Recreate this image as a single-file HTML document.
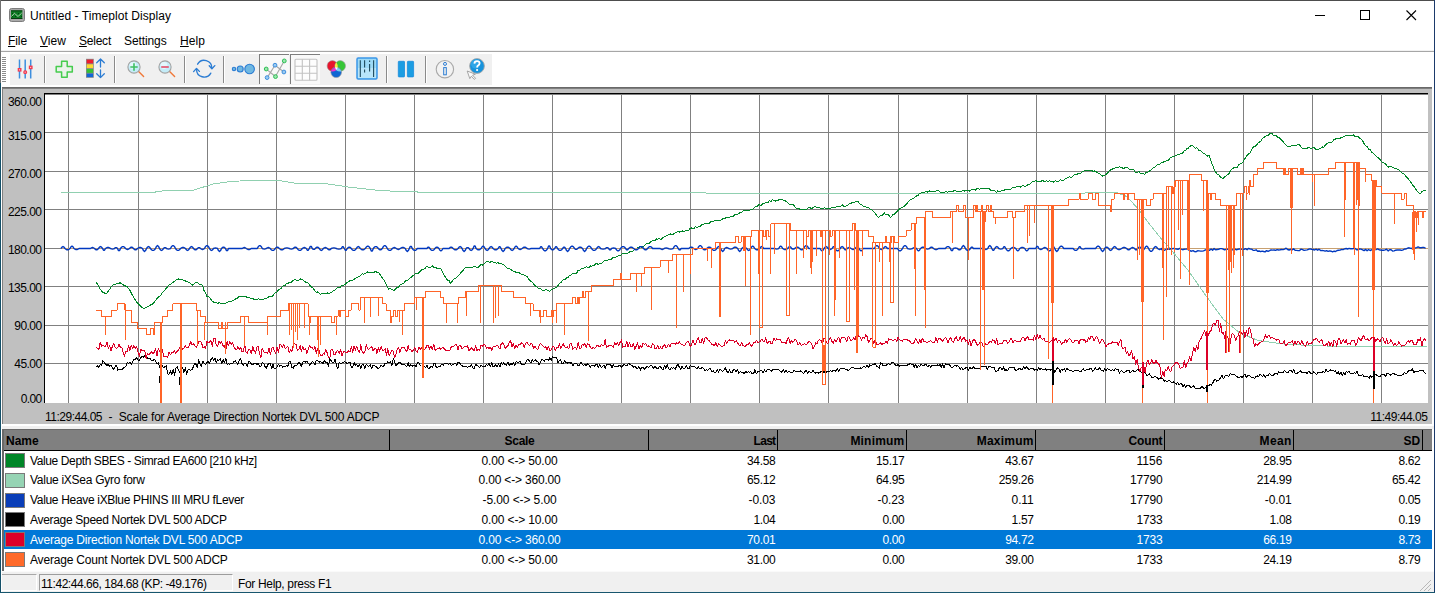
<!DOCTYPE html>
<html><head><meta charset="utf-8"><title>Untitled - Timeplot Display</title>
<style>
html,body{margin:0;padding:0;background:#fff;}
body{width:1435px;height:593px;overflow:hidden;position:relative;font-family:"Liberation Sans",sans-serif;font-size:12px;color:#000;}
.a{position:absolute;white-space:nowrap;line-height:14px;}
.t{position:absolute;white-space:nowrap;line-height:14px;font-size:12px;}
.r{text-align:right;}
.c{text-align:center;}
.b{font-weight:bold;}
.box{position:absolute;}
.sw{position:absolute;left:5px;width:18px;height:13px;border:1px solid #7a7a7a;}
.row{position:absolute;left:4px;width:1424px;height:20px;}
.sep{position:absolute;top:56px;width:1px;height:27px;background:#8a8a8a;border-right:1px solid #fff;}
u{text-decoration:underline;text-decoration-thickness:1px;text-underline-offset:0.5px;}
</style></head>
<body>
<div class="box" style="left:0;top:0;width:1435px;height:1px;background:#4d4d4d"></div>
<div class="box" style="left:0;top:0;width:1px;height:83px;background:#707070"></div>
<div class="box" style="left:0;top:83px;width:1px;height:510px;background:#145069"></div>
<div class="box" style="left:1434px;top:0;width:1px;height:593px;background:#1b3a6b"></div>
<div class="box" style="left:0;top:592px;width:1435px;height:1px;background:#17566e"></div>
<svg class="box" style="left:9px;top:8px" width="16" height="14" viewBox="0 0 16 14">
<rect x="0.5" y="0.5" width="15" height="13" rx="2" fill="#a9a9a9" stroke="#7d7d7d"/>
<rect x="2" y="2.4" width="11.3" height="8.6" fill="#0a7a22"/>
<g fill="#063c10"><rect x="2" y="2.4" width="11.3" height="1"/><rect x="2" y="10" width="11.3" height="1"/>
<rect x="3" y="5" width="1" height="1"/><rect x="6" y="5" width="1" height="1"/><rect x="9" y="5" width="1" height="1"/><rect x="12" y="5" width="1" height="1"/>
<rect x="3" y="8" width="1" height="1"/><rect x="6" y="8" width="1" height="1"/><rect x="9" y="8" width="1" height="1"/><rect x="12" y="8" width="1" height="1"/></g>
<polyline points="2.5,8.5 5.5,5.2 9,8.5 12.8,5" fill="none" stroke="#b9dcb9" stroke-width="0.9"/>
</svg>
<div class="t " style="left:30px;top:9px;letter-spacing:0.060px"><span id="title">Untitled - Timeplot Display</span></div>
<svg class="box" style="left:1300px;top:0" width="134" height="30" viewBox="0 0 134 30" shape-rendering="crispEdges">
<path d="M15 15.5H25" stroke="#000" stroke-width="1"/>
<rect x="60.5" y="10.5" width="9" height="9" fill="none" stroke="#000" stroke-width="1"/>
<path d="M106.5 10.5L116 20M116 10.5L106.5 20" stroke="#000" stroke-width="1.1" shape-rendering="auto"/>
</svg>
<div class="t " style="left:8px;top:34px;letter-spacing:-0.090px"><span id="m_File"><u>F</u>ile</span></div>
<div class="t " style="left:40px;top:34px;letter-spacing:-0.003px"><span id="m_View"><u>V</u>iew</span></div>
<div class="t " style="left:79px;top:34px;letter-spacing:-0.229px"><span id="m_Select"><u>S</u>elect</span></div>
<div class="t " style="left:124px;top:34px;letter-spacing:-0.095px"><span id="m_Settings">Settings</span></div>
<div class="t " style="left:180px;top:34px;letter-spacing:0.078px"><span id="m_Help"><u>H</u>elp</span></div>
<div class="box" style="left:1px;top:50px;width:1433px;height:1px;background:#f2f2f2"></div>
<div class="box" style="left:1px;top:51px;width:1433px;height:1px;background:#a6a6a6"></div>
<div class="box" style="left:10px;top:54px;width:482px;height:31px;background:#f0f0f0"></div>
<svg class="box" style="left:2px;top:57px" width="5" height="26" shape-rendering="crispEdges"><rect x="0" y="0" width="4" height="1" fill="#8c8c8c"/><rect x="0" y="2" width="4" height="1" fill="#8c8c8c"/><rect x="0" y="4" width="4" height="1" fill="#8c8c8c"/><rect x="0" y="6" width="4" height="1" fill="#8c8c8c"/><rect x="0" y="8" width="4" height="1" fill="#8c8c8c"/><rect x="0" y="10" width="4" height="1" fill="#8c8c8c"/><rect x="0" y="12" width="4" height="1" fill="#8c8c8c"/><rect x="0" y="14" width="4" height="1" fill="#8c8c8c"/><rect x="0" y="16" width="4" height="1" fill="#8c8c8c"/><rect x="0" y="18" width="4" height="1" fill="#8c8c8c"/><rect x="0" y="20" width="4" height="1" fill="#8c8c8c"/><rect x="0" y="22" width="4" height="1" fill="#8c8c8c"/><rect x="0" y="24" width="4" height="1" fill="#8c8c8c"/></svg>
<div class="sep" style="left:44px"></div>
<div class="sep" style="left:114px"></div>
<div class="sep" style="left:184px"></div>
<div class="sep" style="left:223px"></div>
<div class="sep" style="left:386px"></div>
<div class="sep" style="left:425px"></div>
<div class="box" style="left:259px;top:54px;width:30px;height:30px;background:#f9f9f9;border-left:1px solid #7e7e7e;border-top:1px solid #7e7e7e;box-sizing:border-box"></div>
<div class="box" style="left:290px;top:54px;width:30px;height:30px;background:#f9f9f9;border-left:1px solid #7e7e7e;border-top:1px solid #7e7e7e;box-sizing:border-box"></div>
<svg class="box" style="left:0;top:52px" width="500" height="36" viewBox="0 52 500 36" fill="none">
<!-- sliders -->
<g stroke="#3d8ede" stroke-width="1.5"><path d="M19.5 59.5V78.5M25.2 59.5V78.5M30.7 59.5V78.5"/></g>
<g fill="#f23a50"><rect x="17.7" y="68" width="3.8" height="3.6"/><rect x="23.3" y="70.2" width="3.8" height="3.8" rx="1.6"/><rect x="28.8" y="65.6" width="3.8" height="3.6"/></g>
<g fill="#ffd0d6"><rect x="19" y="69.3" width="1.1" height="1.1"/><rect x="24.6" y="71.6" width="1.1" height="1.1"/><rect x="30.1" y="66.9" width="1.1" height="1.1"/></g>
<!-- green plus -->
<path d="M61.6 61.2H67.2V66.4H72.3V72H67.2V77.2H61.6V72H56.2V66.4H61.6Z" stroke="#46cc4e" stroke-width="1.5" stroke-linejoin="round" fill="#eaf3ea"/>
<!-- colour bar -->
<rect x="86" y="58.8" width="7.8" height="19" fill="#8b8b8b"/>
<rect x="86.7" y="59.6" width="6.4" height="3.8" fill="#ee1c2e"/>
<rect x="86.7" y="64.3" width="6.4" height="3.8" fill="#ffd92f"/>
<rect x="86.7" y="69" width="6.4" height="3.8" fill="#34c234"/>
<rect x="86.7" y="73.6" width="6.4" height="3.5" fill="#1166d6"/>
<g stroke="#2b7cd3" stroke-width="1.3" stroke-linecap="round" stroke-linejoin="round"><path d="M100.5 59V67M96.7 62.8L100.5 59L104.3 62.8M100.5 70V77.6M96.7 73.8L100.5 77.6L104.3 73.8"/></g>
<!-- zoom in -->
<path d="M138.6 71.6L143.6 76.6" stroke="#f07838" stroke-width="1.4" stroke-linecap="round"/>
<circle cx="134" cy="67" r="6.1" fill="#c4ecf8" stroke="#a2a2a2" stroke-width="1.1"/>
<circle cx="133" cy="65.5" r="3.4" fill="#e4f7fc"/>
<path d="M130.3 67H137.7M134 63.3V70.7" stroke="#3fbf63" stroke-width="1.6"/>
<!-- zoom out -->
<path d="M169.6 71.6L174.6 76.6" stroke="#f07838" stroke-width="1.4" stroke-linecap="round"/>
<circle cx="165" cy="67" r="6.1" fill="#c4ecf8" stroke="#a2a2a2" stroke-width="1.1"/>
<circle cx="164" cy="65.5" r="3.4" fill="#e4f7fc"/>
<path d="M161.2 67H168.8" stroke="#e2607a" stroke-width="1.8"/>
<!-- refresh -->
<g stroke="#2b7cd3" stroke-width="1.35" stroke-linecap="round" stroke-linejoin="round">
<path d="M197.6 64.2A7.6 7.6 0 0 1 211.8 68.2"/><path d="M209.2 65.8L211.9 68.8L214.8 65.6"/>
<path d="M210.8 73.2A7.6 7.6 0 0 1 196.6 69.2"/><path d="M193.6 71.6L196.5 68.4L199.4 71.4"/></g>
<!-- bubbles -->
<g fill="#6fb8e2" stroke="#2b7cd3" stroke-width="1.1"><circle cx="234" cy="69" r="1.7"/><circle cx="240.2" cy="69" r="3"/><circle cx="249.6" cy="69" r="4.8"/></g>
<!-- scatter -->
<g stroke="#a6a6a6" stroke-width="1.1"><path d="M266.3 69.1L275.4 76.5M275 65.3L283.9 72M284.4 60.8L275.4 76.5M267.2 77.6L275 65.3"/></g>
<g stroke-width="1"><circle cx="284.3" cy="60.9" r="1.9" fill="#9be6ae" stroke="#2fbf55"/><circle cx="266.2" cy="69" r="1.9" fill="#9be6ae" stroke="#2fbf55"/><circle cx="275.5" cy="76.6" r="1.9" fill="#9be6ae" stroke="#2fbf55"/>
<circle cx="275" cy="65.2" r="1.9" fill="#9ccbf0" stroke="#3d8ede"/><circle cx="283.9" cy="72" r="1.9" fill="#9ccbf0" stroke="#3d8ede"/><circle cx="267.1" cy="77.6" r="1.9" fill="#9ccbf0" stroke="#3d8ede"/></g>
<!-- grid -->
<rect x="295" y="59.2" width="22" height="21" rx="1" fill="#fdfdfd" stroke="#c2c2c2" stroke-width="1.1"/>
<path d="M302.3 59.2V80.2M309.6 59.2V80.2M295 66.2H317M295 73.2H317" stroke="#c2c2c2" stroke-width="1.1"/>
<!-- venn -->
<circle cx="332.4" cy="65.9" r="5.3" fill="#e8142c" stroke="#9a9a9a" stroke-width="0.6"/>
<circle cx="340.2" cy="65.9" r="5.3" fill="#36c636" stroke="#9a9a9a" stroke-width="0.6"/>
<circle cx="336.2" cy="72.3" r="5.3" fill="#0f66d2" stroke="#9a9a9a" stroke-width="0.6"/>
<path d="M336.3 62.3Q338.4 65 337.6 68.2H335Q334.2 65 336.3 62.3Z" fill="#ffe840"/>
<path d="M331.4 70.4Q333 67.6 335.6 67.8L336.2 70.2Q334.3 71.6 331.4 71.4Z" fill="#f32fd0"/>
<path d="M341 70.4Q339.4 67.6 336.8 67.8L336.2 70.2Q338.1 71.6 341 71.4Z" fill="#7fd0f0"/>
<path d="M335 67.6H337.6L336.3 70.2Z" fill="#fff"/>
<!-- blue box -->
<rect x="357" y="58" width="20" height="21" rx="1.2" fill="#9ddaf6" stroke="#3a96e8" stroke-width="1.5"/>
<rect x="358" y="68" width="18" height="10" fill="#b9e6fa"/>
<g stroke="#1e4a5c" stroke-width="1.1"><path d="M360.3 60.2V77M373.6 60.2V77M364.6 60.2V67.6M364.6 69.6V72.6M369.6 60.4V62M369.6 64V71.4"/></g>
<!-- pause -->
<rect x="398.3" y="61.3" width="6.2" height="15.6" rx="0.6" fill="#1c9de2" stroke="#1b8cdc" stroke-width="0.8"/>
<rect x="407.4" y="61.3" width="6.2" height="15.6" rx="0.6" fill="#1c9de2" stroke="#1b8cdc" stroke-width="0.8"/>
<!-- info -->
<circle cx="444.9" cy="69.2" r="8.7" fill="#f2f2f2" stroke="#a8a8a8" stroke-width="1.1"/>
<circle cx="445" cy="63.9" r="1.5" stroke="#2b7cd3" stroke-width="1"/>
<rect x="443.7" y="67.6" width="2.6" height="7.2" stroke="#2b7cd3" stroke-width="1"/>
<!-- help -->
<circle cx="477" cy="66" r="7.4" fill="#1793dc" stroke="#a9a9a9" stroke-width="0.9"/>
<circle cx="475.6" cy="64" r="4.6" fill="#2ea6e8"/>
<path d="M474.4 63.6Q474.5 61.2 477 61.2Q479.6 61.2 479.6 63.3Q479.6 64.7 478.1 65.5Q477.1 66.1 477.1 67.4" stroke="#fff" stroke-width="1.8" fill="none"/>
<circle cx="477.1" cy="70" r="1.1" fill="#fff"/>
<path d="M467.2 71L475.4 74.2L472.6 75.2L475.6 78.4L474.2 79.4L471.4 76.2L469.8 78.6Z" fill="#fafafa" stroke="#9c9c9c" stroke-width="0.9" stroke-linejoin="round"/>
</svg>
<div class="box" style="left:2px;top:87px;width:1430px;height:1px;background:#696969"></div>
<div class="box" style="left:2px;top:88px;width:1430px;height:1px;background:#7f7f7f"></div>
<div class="box" style="left:2px;top:89px;width:1430px;height:335px;background:#c0c0c0"></div>
<div class="box" style="left:2px;top:88px;width:1px;height:336px;background:#808080"></div>
<div class="box" style="left:1432px;top:88px;width:1px;height:336px;background:#fff"></div>
<div class="box" style="left:2px;top:426px;width:1432px;height:3px;background:#f0f0f0"></div>
<div class="t " style="right:1393.5px;top:95px;letter-spacing:-0.517px"><span id="t7">360.00</span></div>
<div class="t " style="right:1393.5px;top:129px;letter-spacing:-0.517px"><span id="t8">315.00</span></div>
<div class="t " style="right:1393.5px;top:167px;letter-spacing:-0.517px"><span id="t9">270.00</span></div>
<div class="t " style="right:1393.5px;top:205px;letter-spacing:-0.517px"><span id="t10">225.00</span></div>
<div class="t " style="right:1393.5px;top:243px;letter-spacing:-0.517px"><span id="t11">180.00</span></div>
<div class="t " style="right:1393.5px;top:281px;letter-spacing:-0.517px"><span id="t12">135.00</span></div>
<div class="t " style="right:1393.5px;top:319px;letter-spacing:-0.566px"><span id="t13">90.00</span></div>
<div class="t " style="right:1393.5px;top:357px;letter-spacing:-0.566px"><span id="t14">45.00</span></div>
<div class="t " style="right:1393.5px;top:392px;letter-spacing:-0.640px"><span id="t15">0.00</span></div>
<div class="t " style="left:45px;top:410px;letter-spacing:-0.501px"><span id="tl">11:29:44.05</span></div>
<div class="t " style="left:108.6px;top:410px"><span id="tl2">-</span></div>
<div class="t " style="left:118.8px;top:410px;letter-spacing:-0.193px"><span id="tl3">Scale for Average Direction Nortek DVL 500 ADCP</span></div>
<div class="t " style="right:7.7px;top:410px;letter-spacing:-0.501px"><span id="tr">11:49:44.05</span></div>
<div class="box" style="left:2px;top:429px;width:1430px;height:1px;background:#696969"></div>
<div class="box" style="left:2px;top:430px;width:1430px;height:20px;background:#808080"></div>
<div class="box" style="left:2px;top:450px;width:1430px;height:1px;background:#000"></div>
<div class="box" style="left:2px;top:429px;width:2px;height:142px;background:#696969"></div>
<div class="box" style="left:389px;top:430px;width:1px;height:20px;background:#000"></div>
<div class="box" style="left:648px;top:430px;width:1px;height:20px;background:#000"></div>
<div class="box" style="left:777px;top:430px;width:1px;height:20px;background:#000"></div>
<div class="box" style="left:906px;top:430px;width:1px;height:20px;background:#000"></div>
<div class="box" style="left:1035px;top:430px;width:1px;height:20px;background:#000"></div>
<div class="box" style="left:1164px;top:430px;width:1px;height:20px;background:#000"></div>
<div class="box" style="left:1293px;top:430px;width:1px;height:20px;background:#000"></div>
<div class="box" style="left:1422px;top:430px;width:1px;height:20px;background:#000"></div>
<div class="t b" style="left:6px;top:434px;letter-spacing:-0.022px"><span id="t20">Name</span></div>
<div class="t b" style="left:369.5px;width:300px;text-align:center;top:434px;letter-spacing:-0.312px"><span id="t21">Scale</span></div>
<div class="t b" style="right:659.6px;top:434px;letter-spacing:-0.722px"><span id="t22">Last</span></div>
<div class="t b" style="right:530.6px;top:434px;letter-spacing:0.190px"><span id="t23">Minimum</span></div>
<div class="t b" style="right:401.4px;top:434px;letter-spacing:0.220px"><span id="t24">Maximum</span></div>
<div class="t b" style="right:272.6px;top:434px;letter-spacing:-0.171px"><span id="t25">Count</span></div>
<div class="t b" style="right:143.4px;top:434px;letter-spacing:0.328px"><span id="t26">Mean</span></div>
<div class="t b" style="right:14.6px;top:434px;letter-spacing:0.164px"><span id="t27">SD</span></div>
<div class="sw" style="top:453px;background:#008628"></div>
<div class="t " style="left:30px;top:454px;color:#000;letter-spacing:-0.385px"><span id="t28">Value Depth SBES - Simrad EA600 [210 kHz]</span></div>
<div class="t " style="left:369.6px;width:300px;text-align:center;top:454px;color:#000;letter-spacing:-0.148px"><span id="t29">0.00 &lt;-&gt; 50.00</span></div>
<div class="t " style="right:659.6px;top:454px;color:#000;letter-spacing:-0.310px"><span id="t30">34.58</span></div>
<div class="t " style="right:530.6px;top:454px;color:#000;letter-spacing:-0.310px"><span id="t31">15.17</span></div>
<div class="t " style="right:401.4px;top:454px;color:#000;letter-spacing:-0.310px"><span id="t32">43.67</span></div>
<div class="t " style="right:272.6px;top:454px;color:#000;letter-spacing:0.017px"><span id="t33">1156</span></div>
<div class="t " style="right:143.4px;top:454px;color:#000;letter-spacing:-0.310px"><span id="t34">28.95</span></div>
<div class="t " style="right:14.6px;top:454px;color:#000;letter-spacing:-0.337px"><span id="t35">8.62</span></div>
<div class="sw" style="top:473px;background:#96d4b4"></div>
<div class="t " style="left:30px;top:473px;color:#000;letter-spacing:-0.276px"><span id="t36">Value iXSea Gyro forw</span></div>
<div class="t " style="left:369.6px;width:300px;text-align:center;top:473px;color:#000;letter-spacing:-0.183px"><span id="t37">0.00 &lt;-&gt; 360.00</span></div>
<div class="t " style="right:659.6px;top:473px;color:#000;letter-spacing:-0.310px"><span id="t38">65.12</span></div>
<div class="t " style="right:530.6px;top:473px;color:#000;letter-spacing:-0.310px"><span id="t39">64.95</span></div>
<div class="t " style="right:401.4px;top:473px;color:#000;letter-spacing:-0.292px"><span id="t40">259.26</span></div>
<div class="t " style="right:272.6px;top:473px;color:#000;letter-spacing:-0.205px"><span id="t41">17790</span></div>
<div class="t " style="right:143.4px;top:473px;color:#000;letter-spacing:-0.292px"><span id="t42">214.99</span></div>
<div class="t " style="right:14.6px;top:473px;color:#000;letter-spacing:-0.310px"><span id="t43">65.42</span></div>
<div class="sw" style="top:493px;background:#0a3eb8"></div>
<div class="t " style="left:30px;top:493px;color:#000;letter-spacing:-0.322px"><span id="t44">Value Heave iXBlue PHINS III MRU fLever</span></div>
<div class="t " style="left:369.6px;width:300px;text-align:center;top:493px;color:#000;letter-spacing:-0.099px"><span id="t45">-5.00 &lt;-&gt; 5.00</span></div>
<div class="t " style="right:659.6px;top:493px;color:#000;letter-spacing:-0.110px"><span id="t46">-0.03</span></div>
<div class="t " style="right:530.6px;top:493px;color:#000;letter-spacing:-0.110px"><span id="t47">-0.23</span></div>
<div class="t " style="right:401.4px;top:493px;color:#000;letter-spacing:-0.115px"><span id="t48">0.11</span></div>
<div class="t " style="right:272.6px;top:493px;color:#000;letter-spacing:-0.205px"><span id="t49">17790</span></div>
<div class="t " style="right:143.4px;top:493px;color:#000;letter-spacing:-0.110px"><span id="t50">-0.01</span></div>
<div class="t " style="right:14.6px;top:493px;color:#000;letter-spacing:-0.337px"><span id="t51">0.05</span></div>
<div class="sw" style="top:512px;background:#000000"></div>
<div class="t " style="left:30px;top:513px;color:#000;letter-spacing:-0.309px"><span id="t52">Average Speed Nortek DVL 500 ADCP</span></div>
<div class="t " style="left:369.6px;width:300px;text-align:center;top:513px;color:#000;letter-spacing:-0.148px"><span id="t53">0.00 &lt;-&gt; 10.00</span></div>
<div class="t " style="right:659.6px;top:513px;color:#000;letter-spacing:-0.337px"><span id="t54">1.04</span></div>
<div class="t " style="right:530.6px;top:513px;color:#000;letter-spacing:-0.337px"><span id="t55">0.00</span></div>
<div class="t " style="right:401.4px;top:513px;color:#000;letter-spacing:-0.337px"><span id="t56">1.57</span></div>
<div class="t " style="right:272.6px;top:513px;color:#000;letter-spacing:-0.206px"><span id="t57">1733</span></div>
<div class="t " style="right:143.4px;top:513px;color:#000;letter-spacing:-0.337px"><span id="t58">1.08</span></div>
<div class="t " style="right:14.6px;top:513px;color:#000;letter-spacing:-0.337px"><span id="t59">0.19</span></div>
<div class="box" style="left:4px;top:530.0px;width:1428px;height:19px;background:#0078d7"></div>
<div class="sw" style="top:532px;background:#dc0028"></div>
<div class="t " style="left:30px;top:533px;color:#fff;letter-spacing:-0.191px"><span id="t60">Average Direction Nortek DVL 500 ADCP</span></div>
<div class="t " style="left:369.6px;width:300px;text-align:center;top:533px;color:#fff;letter-spacing:-0.183px"><span id="t61">0.00 &lt;-&gt; 360.00</span></div>
<div class="t " style="right:659.6px;top:533px;color:#fff;letter-spacing:-0.310px"><span id="t62">70.01</span></div>
<div class="t " style="right:530.6px;top:533px;color:#fff;letter-spacing:-0.337px"><span id="t63">0.00</span></div>
<div class="t " style="right:401.4px;top:533px;color:#fff;letter-spacing:-0.310px"><span id="t64">94.72</span></div>
<div class="t " style="right:272.6px;top:533px;color:#fff;letter-spacing:-0.206px"><span id="t65">1733</span></div>
<div class="t " style="right:143.4px;top:533px;color:#fff;letter-spacing:-0.310px"><span id="t66">66.19</span></div>
<div class="t " style="right:14.6px;top:533px;color:#fff;letter-spacing:-0.337px"><span id="t67">8.73</span></div>
<div class="sw" style="top:552px;background:#ff6a2a"></div>
<div class="t " style="left:30px;top:553px;color:#000;letter-spacing:-0.195px"><span id="t68">Average Count Nortek DVL 500 ADCP</span></div>
<div class="t " style="left:369.6px;width:300px;text-align:center;top:553px;color:#000;letter-spacing:-0.148px"><span id="t69">0.00 &lt;-&gt; 50.00</span></div>
<div class="t " style="right:659.6px;top:553px;color:#000;letter-spacing:-0.310px"><span id="t70">31.00</span></div>
<div class="t " style="right:530.6px;top:553px;color:#000;letter-spacing:-0.337px"><span id="t71">0.00</span></div>
<div class="t " style="right:401.4px;top:553px;color:#000;letter-spacing:-0.310px"><span id="t72">39.00</span></div>
<div class="t " style="right:272.6px;top:553px;color:#000;letter-spacing:-0.206px"><span id="t73">1733</span></div>
<div class="t " style="right:143.4px;top:553px;color:#000;letter-spacing:-0.310px"><span id="t74">24.19</span></div>
<div class="t " style="right:14.6px;top:553px;color:#000;letter-spacing:-0.337px"><span id="t75">8.79</span></div>
<div class="box" style="left:2px;top:571px;width:1432px;height:21px;background:#f0f0f0"></div>
<div class="box" style="left:2px;top:571px;width:1432px;height:1px;background:#fafafa"></div>
<div class="box" style="left:2px;top:574px;width:35px;height:17px;border-top:1px solid #a8a8a8;border-right:1px solid #fff;border-bottom:1px solid #fff;box-sizing:border-box"></div>
<div class="box" style="left:39px;top:574px;width:194px;height:17px;border-left:1px solid #9d9d9d;border-top:1px solid #9d9d9d;border-right:1px solid #fff;border-bottom:1px solid #fff;box-sizing:border-box"></div>
<div class="t " style="left:41px;top:577px;letter-spacing:-0.457px"><span id="st1">11:42:44.66, 184.68 (KP: -49.176)</span></div>
<div class="t " style="left:238px;top:577px;letter-spacing:-0.338px"><span id="st2">For Help, press F1</span></div>
<svg class="box" style="left:1418px;top:578px" width="14" height="14" shape-rendering="crispEdges">
<path d="M13 2L2 13M13 6L6 13M13 10L10 13" stroke="#b8b8b8" stroke-width="1" shape-rendering="auto"/></svg>
<svg width="1435" height="593" viewBox="0 0 1435 593" style="position:absolute;left:0;top:0" shape-rendering="crispEdges" fill="none">
<rect x="44" y="93" width="1384" height="310" fill="#fff"/>
<path d="M68.5 94V403M138.5 94V403M207.5 94V403M276.5 94V403M345.5 94V403M414.5 94V403M483.5 94V403M552.5 94V403M621.5 94V403M690.5 94V403M759.5 94V403M828.5 94V403M898.5 94V403M967.5 94V403M1036.5 94V403M1105.5 94V403M1174.5 94V403M1243.5 94V403M1312.5 94V403M1381.5 94V403M45 94.5H1428M45 132.5H1428M45 171.5H1428M45 209.5H1428M45 248.5H1428M45 286.5H1428M45 325.5H1428M45 363.5H1428" stroke="#808080" stroke-width="1"/>
<path d="M44.5 403V93.5H1428" stroke="#000" stroke-width="1"/>
<g stroke-linejoin="round" stroke-width="1">
<polyline points="61.0,192.4 153.0,192.4 164.0,190.7 193.0,190.2 214.0,183.8 231.0,181.5 250.0,180.4 278.0,180.4 295.0,183.2 323.0,183.2 351.0,187.4 380.0,190.5 400.0,191.5 417.0,191.5 418.0,192.5 760.0,193.1 1080.0,193.3 1099.0,192.2 1116.0,192.2 1127.0,196.6 1138.0,208.7 1149.0,223.5 1161.0,238.4 1170.0,248.5 1189.0,271.5 1206.0,295.9 1223.0,318.9 1240.0,333.2 1258.0,340.4 1281.0,343.8 1309.0,345.5 1340.0,346.4 1427.0,346.4" stroke="#90d0b0"/>
<polyline points="96.2,282.5 97.6,284.4 99.0,287.1 100.4,289.4 101.8,291.2 103.2,292.7 104.6,293.0 106.0,294.0 107.4,292.8 108.8,290.1 110.2,288.5 111.6,286.4 113.0,284.7 114.4,284.8 115.8,284.0 117.2,283.5 118.6,283.5 120.0,282.6 121.4,283.9 122.8,284.3 124.2,285.5 125.6,286.1 127.0,286.7 128.4,288.2 129.8,290.1 131.2,292.8 132.6,295.6 134.0,297.8 135.4,300.1 136.8,302.4 138.2,303.8 139.6,305.3 141.0,306.7 142.4,307.6 143.8,308.6 145.2,307.7 146.6,307.2 148.0,306.4 149.4,305.9 150.8,304.9 152.2,304.4 153.6,303.1 155.0,301.3 156.4,299.2 157.8,297.8 159.2,296.4 160.6,295.5 162.0,293.2 163.4,291.2 164.8,290.5 166.2,288.2 167.6,286.7 169.0,285.1 170.4,284.4 171.8,283.1 173.2,282.1 174.6,281.7 176.0,280.2 177.4,279.4 178.8,278.9 180.2,279.3 181.6,279.5 183.0,280.0 184.4,280.5 185.8,281.1 187.2,281.8 188.6,282.1 190.0,283.1 191.4,284.4 192.8,285.2 194.2,283.9 195.6,282.7 197.0,282.5 198.4,283.5 199.8,284.3 201.2,284.2 202.6,285.8 204.0,290.6 205.4,292.5 206.8,296.8 208.2,296.7 209.6,297.6 211.0,299.5 212.4,301.2 213.8,302.3 215.2,302.6 216.6,302.9 218.0,303.3 219.4,302.4 220.8,303.5 222.2,303.5 223.6,303.7 225.0,304.0 226.4,302.8 227.8,302.1 229.2,301.0 230.6,301.9 232.0,301.2 233.4,300.3 234.8,299.5 236.2,298.3 237.6,298.2 239.0,296.1 240.4,296.9 241.8,296.5 243.2,296.2 244.6,296.3 246.0,296.7 247.4,297.7 248.8,297.6 250.2,298.1 251.6,298.9 253.0,298.5 254.4,299.6 255.8,299.3 257.2,299.3 258.6,298.9 260.0,299.3 261.4,299.2 262.8,299.7 264.2,298.7 265.6,298.7 267.0,298.1 268.4,297.1 269.8,296.0 271.2,296.2 272.6,296.1 274.0,293.8 275.4,292.4 276.8,292.4 278.2,290.3 279.6,289.0 281.0,288.6 282.4,286.3 283.8,285.6 285.2,285.3 286.6,283.5 288.0,283.3 289.4,282.2 290.8,282.7 292.2,281.4 293.6,280.2 295.0,279.5 296.4,280.5 297.8,280.6 299.2,280.0 300.6,278.8 302.0,279.9 303.4,280.0 304.8,281.9 306.2,282.1 307.6,282.6 309.0,284.3 310.4,285.7 311.8,287.5 313.2,288.3 314.6,290.6 316.0,292.1 317.4,292.0 318.8,293.1 320.2,294.1 321.6,293.8 323.0,293.0 324.4,293.9 325.8,293.8 327.2,292.7 328.6,293.9 330.0,292.8 331.4,292.7 332.8,291.1 334.2,290.5 335.6,289.4 337.0,288.1 338.4,287.2 339.8,287.6 341.2,286.0 342.6,285.3 344.0,285.2 345.4,284.1 346.8,282.8 348.2,282.1 349.6,280.7 351.0,281.1 352.4,280.3 353.8,279.8 355.2,278.3 356.6,277.6 358.0,276.9 359.4,276.5 360.8,275.3 362.2,273.6 363.6,274.2 365.0,273.7 366.4,272.7 367.8,271.9 369.2,272.6 370.6,272.3 372.0,272.8 373.4,272.9 374.8,271.8 376.2,271.7 377.6,272.8 379.0,272.8 380.4,275.1 381.8,277.2 383.2,279.0 384.6,280.8 386.0,283.7 387.4,286.5 388.8,289.1 390.2,288.6 391.6,289.4 393.0,290.2 394.4,290.1 395.8,288.7 397.2,287.3 398.6,287.0 400.0,285.0 401.4,284.9 402.8,283.5 404.2,282.8 405.6,280.8 407.0,281.1 408.4,279.8 409.8,278.3 411.2,277.6 412.6,276.0 414.0,275.2 415.4,273.5 416.8,273.7 418.2,273.6 419.6,272.0 421.0,270.3 422.4,269.5 423.8,269.0 425.2,268.4 426.6,266.4 428.0,267.2 429.4,267.1 430.8,267.0 432.2,265.8 433.6,267.2 435.0,267.0 436.4,268.0 437.8,268.6 439.2,268.0 440.6,268.7 442.0,270.6 443.4,274.1 444.8,276.4 446.2,278.0 447.6,280.6 449.0,280.6 450.4,283.1 451.8,281.9 453.2,279.7 454.6,278.4 456.0,278.0 457.4,276.3 458.8,275.0 460.2,273.8 461.6,271.5 463.0,270.6 464.4,268.4 465.8,267.6 467.2,267.6 468.6,267.2 470.0,267.7 471.4,267.0 472.8,267.2 474.2,266.4 475.6,267.0 477.0,267.4 478.4,267.1 479.8,265.5 481.2,264.2 482.6,265.1 484.0,264.0 485.4,262.4 486.8,261.8 488.2,261.8 489.6,262.5 491.0,261.7 492.4,261.6 493.8,262.2 495.2,262.9 496.6,263.2 498.0,262.4 499.4,264.0 500.8,263.3 502.2,264.2 503.6,264.8 505.0,265.8 506.4,267.3 507.8,268.6 509.2,268.6 510.6,269.3 512.0,270.6 513.4,271.3 514.8,271.4 516.2,272.6 517.6,272.3 519.0,272.2 520.4,273.8 521.8,274.4 523.2,274.2 524.6,276.0 526.0,275.8 527.4,276.6 528.8,279.2 530.2,280.7 531.6,281.7 533.0,282.8 534.4,285.0 535.8,286.3 537.2,287.1 538.6,288.6 540.0,288.5 541.4,289.2 542.8,290.6 544.2,290.5 545.6,289.7 547.0,290.1 548.4,290.4 549.8,291.3 551.2,289.9 552.6,289.2 554.0,288.0 555.4,288.0 556.8,287.6 558.2,285.3 559.6,283.5 561.0,282.5 562.4,280.8 563.8,279.4 565.2,279.5 566.6,277.7 568.0,278.0 569.4,275.6 570.8,275.2 572.2,273.5 573.6,273.9 575.0,273.8 576.4,273.9 577.8,270.9 579.2,270.5 580.6,269.2 582.0,268.5 583.4,268.1 584.8,267.9 586.2,266.9 587.6,267.3 589.0,267.6 590.4,266.0 591.8,266.3 593.2,265.5 594.6,265.0 596.0,263.4 597.4,264.0 598.8,264.3 600.2,263.5 601.6,263.2 603.0,261.9 604.4,260.7 605.8,261.0 607.2,260.3 608.6,259.4 610.0,259.5 611.4,259.4 612.8,257.7 614.2,257.1 615.6,257.3 617.0,256.6 618.4,255.8 619.8,255.1 621.2,255.0 622.6,253.5 624.0,253.3 625.4,253.9 626.8,253.2 628.2,253.1 629.6,251.8 631.0,251.0 632.4,251.6 633.8,250.2 635.2,249.5 636.6,248.7 638.0,247.6 639.4,246.7 640.8,247.0 642.2,247.0 643.6,246.8 645.0,244.9 646.4,243.5 647.8,243.5 649.2,243.2 650.6,242.0 652.0,241.0 653.4,240.4 654.8,240.7 656.2,238.8 657.6,239.6 659.0,238.3 660.4,239.4 661.8,238.9 663.2,237.3 664.6,236.6 666.0,235.9 667.4,235.1 668.8,234.9 670.2,233.9 671.6,234.9 673.0,234.8 674.4,233.2 675.8,232.8 677.2,231.9 678.6,231.7 680.0,232.2 681.4,231.4 682.8,230.9 684.2,231.3 685.6,230.6 687.0,230.6 688.4,230.6 689.8,228.8 691.2,227.8 692.6,229.0 694.0,228.6 695.4,226.6 696.8,227.3 698.2,226.8 699.6,226.5 701.0,225.6 702.4,224.3 703.8,224.0 705.2,223.6 706.6,223.2 708.0,223.8 709.4,223.3 710.8,221.8 712.2,221.2 713.6,221.3 715.0,220.7 716.4,220.2 717.8,220.1 719.2,220.0 720.6,220.5 722.0,219.3 723.4,218.1 724.8,219.0 726.2,217.4 727.6,217.5 729.0,217.1 730.4,216.9 731.8,216.2 733.2,216.2 734.6,214.9 736.0,214.4 737.4,214.3 738.8,213.7 740.2,212.5 741.6,212.5 743.0,211.1 744.4,210.5 745.8,210.7 747.2,210.3 748.6,210.3 750.0,210.1 751.4,209.2 752.8,209.0 754.2,207.8 755.6,206.8 757.0,207.1 758.4,204.9 759.8,204.9 761.2,205.4 762.6,203.9 764.0,203.4 765.4,203.0 766.8,202.0 768.2,202.3 769.6,200.6 771.0,201.4 772.4,199.6 773.8,200.4 775.2,201.2 776.6,200.2 778.0,200.3 779.4,199.5 780.8,199.0 782.2,199.0 783.6,200.5 785.0,200.5 786.4,201.7 787.8,202.5 789.2,204.0 790.6,204.1 792.0,204.4 793.4,204.9 794.8,206.6 796.2,207.9 797.6,209.0 799.0,208.4 800.4,209.8 801.8,209.2 803.2,208.9 804.6,210.0 806.0,209.9 807.4,208.4 808.8,207.5 810.2,207.8 811.6,208.8 813.0,207.6 814.4,206.8 815.8,207.0 817.2,207.3 818.6,207.2 820.0,208.0 821.4,208.5 822.8,208.6 824.2,207.9 825.6,208.2 827.0,208.8 828.4,208.3 829.8,208.7 831.2,207.9 832.6,207.1 834.0,207.4 835.4,207.5 836.8,206.3 838.2,206.1 839.6,206.2 841.0,206.0 842.4,205.0 843.8,206.3 845.2,206.1 846.6,205.8 848.0,205.2 849.4,203.7 850.8,203.8 852.2,202.4 853.6,202.5 855.0,202.1 856.4,201.7 857.8,201.3 859.2,203.4 860.6,204.2 862.0,204.7 863.4,206.3 864.8,206.2 866.2,207.1 867.6,207.4 869.0,208.0 870.4,209.2 871.8,209.7 873.2,211.2 874.6,212.5 876.0,214.6 877.4,216.8 878.8,217.1 880.2,215.7 881.6,215.7 883.0,214.7 884.4,213.0 885.8,214.7 887.2,214.9 888.6,215.0 890.0,217.1 891.4,217.0 892.8,214.6 894.2,214.5 895.6,213.0 897.0,211.6 898.4,210.0 899.8,208.9 901.2,207.9 902.6,207.4 904.0,206.3 905.4,205.3 906.8,203.6 908.2,201.9 909.6,200.4 911.0,199.4 912.4,198.9 913.8,198.6 915.2,196.7 916.6,196.0 918.0,195.7 919.4,193.4 920.8,193.2 922.2,192.5 923.6,192.1 925.0,192.0 926.4,191.1 927.8,192.2 929.2,190.8 930.6,191.9 932.0,191.4 933.4,191.5 934.8,191.9 936.2,191.0 937.6,190.2 939.0,191.2 940.4,192.3 941.8,192.3 943.2,192.4 944.6,192.2 946.0,191.4 947.4,192.4 948.8,191.6 950.2,191.1 951.6,191.8 953.0,191.9 954.4,190.1 955.8,190.9 957.2,191.4 958.6,191.8 960.0,191.6 961.4,191.2 962.8,190.4 964.2,191.3 965.6,190.1 967.0,190.7 968.4,190.4 969.8,191.2 971.2,190.1 972.6,189.3 974.0,189.6 975.4,190.4 976.8,188.7 978.2,188.2 979.6,189.5 981.0,188.2 982.4,188.2 983.8,188.1 985.2,188.0 986.6,188.1 988.0,188.3 989.4,188.8 990.8,190.2 992.2,190.7 993.6,190.8 995.0,191.1 996.4,192.5 997.8,190.7 999.2,191.7 1000.6,191.3 1002.0,190.5 1003.4,190.7 1004.8,189.9 1006.2,189.6 1007.6,189.3 1009.0,189.7 1010.4,190.0 1011.8,188.4 1013.2,187.4 1014.6,187.9 1016.0,187.0 1017.4,186.2 1018.8,186.5 1020.2,187.2 1021.6,186.2 1023.0,185.3 1024.4,186.4 1025.8,186.4 1027.2,185.3 1028.6,184.1 1030.0,184.0 1031.4,182.2 1032.8,181.8 1034.2,181.2 1035.6,180.6 1037.0,181.2 1038.4,181.8 1039.8,181.8 1041.2,181.4 1042.6,180.2 1044.0,181.4 1045.4,181.2 1046.8,180.6 1048.2,181.7 1049.6,180.7 1051.0,181.8 1052.4,181.1 1053.8,182.2 1055.2,180.8 1056.6,181.2 1058.0,182.1 1059.4,180.2 1060.8,179.8 1062.2,180.6 1063.6,180.3 1065.0,178.8 1066.4,178.4 1067.8,177.6 1069.2,176.8 1070.6,177.3 1072.0,177.2 1073.4,175.2 1074.8,174.2 1076.2,174.9 1077.6,174.0 1079.0,173.1 1080.4,173.5 1081.8,172.0 1083.2,171.1 1084.6,170.9 1086.0,170.3 1087.4,170.6 1088.8,170.9 1090.2,170.1 1091.6,170.4 1093.0,171.5 1094.4,171.0 1095.8,171.3 1097.2,172.7 1098.6,173.2 1100.0,174.1 1101.4,175.1 1102.8,176.3 1104.2,175.6 1105.6,174.7 1107.0,173.5 1108.4,172.0 1109.8,170.4 1111.2,169.5 1112.6,169.0 1114.0,168.7 1115.4,167.9 1116.8,167.4 1118.2,167.3 1119.6,166.9 1121.0,167.5 1122.4,168.0 1123.8,168.9 1125.2,167.2 1126.6,167.5 1128.0,167.9 1129.4,169.2 1130.8,169.9 1132.2,169.2 1133.6,169.7 1135.0,171.8 1136.4,172.8 1137.8,172.1 1139.2,171.8 1140.6,173.6 1142.0,173.7 1143.4,173.7 1144.8,174.2 1146.2,172.2 1147.6,172.5 1149.0,171.2 1150.4,170.7 1151.8,169.3 1153.2,167.6 1154.6,167.7 1156.0,166.1 1157.4,164.8 1158.8,164.4 1160.2,163.9 1161.6,162.7 1163.0,162.7 1164.4,161.0 1165.8,161.4 1167.2,160.2 1168.6,160.1 1170.0,158.0 1171.4,157.2 1172.8,156.5 1174.2,156.4 1175.6,155.8 1177.0,155.0 1178.4,154.1 1179.8,154.0 1181.2,153.3 1182.6,153.2 1184.0,151.2 1185.4,150.5 1186.8,148.8 1188.2,148.3 1189.6,146.5 1191.0,145.7 1192.4,145.8 1193.8,146.5 1195.2,148.2 1196.6,147.8 1198.0,149.2 1199.4,150.8 1200.8,150.9 1202.2,152.2 1203.6,153.8 1205.0,153.8 1206.4,155.2 1207.8,156.2 1209.2,155.7 1210.6,159.2 1212.0,164.1 1213.4,166.8 1214.8,171.0 1216.2,172.7 1217.6,174.6 1219.0,174.8 1220.4,177.0 1221.8,178.1 1223.2,178.7 1224.6,176.5 1226.0,176.3 1227.4,174.8 1228.8,173.8 1230.2,171.2 1231.6,169.4 1233.0,168.2 1234.4,167.7 1235.8,167.5 1237.2,167.3 1238.6,164.9 1240.0,164.0 1241.4,163.8 1242.8,162.5 1244.2,159.5 1245.6,158.1 1247.0,155.6 1248.4,154.0 1249.8,153.1 1251.2,150.5 1252.6,147.5 1254.0,146.6 1255.4,146.1 1256.8,144.9 1258.2,142.4 1259.6,142.0 1261.0,140.8 1262.4,138.5 1263.8,137.1 1265.2,136.9 1266.6,135.7 1268.0,135.8 1269.4,134.1 1270.8,133.2 1272.2,133.9 1273.6,135.5 1275.0,136.1 1276.4,135.8 1277.8,137.5 1279.2,137.4 1280.6,139.0 1282.0,140.6 1283.4,142.1 1284.8,144.1 1286.2,144.9 1287.6,146.4 1289.0,147.1 1290.4,146.5 1291.8,145.8 1293.2,145.6 1294.6,145.2 1296.0,145.7 1297.4,144.8 1298.8,144.6 1300.2,145.5 1301.6,148.0 1303.0,148.3 1304.4,148.6 1305.8,148.7 1307.2,148.1 1308.6,147.7 1310.0,148.0 1311.4,148.6 1312.8,147.5 1314.2,147.6 1315.6,149.1 1317.0,149.3 1318.4,149.1 1319.8,148.9 1321.2,148.1 1322.6,147.0 1324.0,147.2 1325.4,144.7 1326.8,143.8 1328.2,142.9 1329.6,143.0 1331.0,142.6 1332.4,141.6 1333.8,139.5 1335.2,139.2 1336.6,138.1 1338.0,138.5 1339.4,138.8 1340.8,137.8 1342.2,137.1 1343.6,136.9 1345.0,136.0 1346.4,135.6 1347.8,135.0 1349.2,135.9 1350.6,135.5 1352.0,135.2 1353.4,134.9 1354.8,136.2 1356.2,136.6 1357.6,136.1 1359.0,137.6 1360.4,138.7 1361.8,139.6 1363.2,141.8 1364.6,144.5 1366.0,145.9 1367.4,146.5 1368.8,149.2 1370.2,149.5 1371.6,152.2 1373.0,153.2 1374.4,154.1 1375.8,156.1 1377.2,157.0 1378.6,157.9 1380.0,159.4 1381.4,161.6 1382.8,162.3 1384.2,163.1 1385.6,163.8 1387.0,165.8 1388.4,167.2 1389.8,166.1 1391.2,166.1 1392.6,167.6 1394.0,168.1 1395.4,168.8 1396.8,169.0 1398.2,169.5 1399.6,170.5 1401.0,171.8 1402.4,173.3 1403.8,173.7 1405.2,175.6 1406.6,176.9 1408.0,178.3 1409.4,180.5 1410.8,182.3 1412.2,184.4 1413.6,186.0 1415.0,187.7 1416.4,190.1 1417.8,191.8 1419.2,193.3 1420.6,193.9 1422.0,191.5 1423.4,190.9 1424.8,190.7 1426.2,189.9" stroke="#008628"/>
<path d="M61 248.5H1428" stroke="#c8a070"/>
<polyline points="61.0,248.5 62.0,247.1 63.0,246.5 64.0,247.1 65.0,248.5 66.0,249.3 67.0,249.8 68.0,249.8 69.0,249.3 70.0,248.5 71.0,246.8 72.0,246.1 73.0,246.8 74.0,248.5 75.0,249.1 76.0,249.5 77.0,249.5 78.0,249.1 79.0,248.5 90.5,248.5 91.5,247.8 92.5,247.5 93.5,247.8 94.5,248.5 95.5,249.5 96.5,249.9 97.5,249.5 98.5,248.5 99.5,247.1 100.5,246.5 101.5,247.1 102.5,248.5 103.5,250.2 104.5,250.2 105.5,248.5 106.5,247.9 107.5,247.5 108.5,247.5 109.5,247.9 110.5,248.5 111.5,248.9 112.5,249.1 113.5,248.9 114.5,248.5 115.5,247.6 116.5,247.6 117.5,248.5 118.5,250.6 119.5,250.6 120.5,248.5 121.5,247.3 122.5,246.6 123.5,246.6 124.5,247.3 125.5,248.5 126.5,249.2 127.5,249.5 128.5,249.2 129.5,248.5 130.5,247.5 131.5,247.1 132.5,247.5 133.5,248.5 134.5,249.5 135.5,249.9 136.5,249.5 137.5,248.5 138.5,247.9 139.5,247.5 140.5,247.5 141.5,247.9 142.5,248.5 143.5,250.6 144.5,251.5 145.5,250.6 146.5,248.5 147.5,247.1 148.5,246.5 149.5,247.1 150.5,248.5 151.5,249.7 152.5,250.4 153.5,250.4 154.5,249.7 155.5,248.5 156.5,246.4 157.5,245.5 158.5,246.4 159.5,248.5 160.5,249.9 161.5,250.5 162.5,249.9 163.5,248.5 164.5,247.6 165.5,247.6 166.5,248.5 167.5,248.9 168.5,249.1 169.5,248.9 170.5,248.5 171.5,246.7 172.5,245.6 173.5,245.6 174.5,246.7 175.5,248.5 176.5,249.7 177.5,250.4 178.5,250.4 179.5,249.7 180.5,248.5 181.5,247.9 182.5,247.5 183.5,247.5 184.5,247.9 185.5,248.5 186.5,249.9 187.5,250.5 188.5,249.9 189.5,248.5 190.5,247.1 191.5,246.5 192.5,247.1 193.5,248.5 194.5,249.5 195.5,249.9 196.5,249.5 197.5,248.5 198.5,247.6 199.5,247.6 200.5,248.5 201.5,249.2 202.5,249.5 203.5,249.2 204.5,248.5 205.5,246.7 206.5,245.6 207.5,245.6 208.5,246.7 209.5,248.5 210.5,249.9 211.5,250.5 212.5,249.9 213.5,248.5 214.5,248.1 215.5,247.9 216.5,248.1 217.5,248.5 218.5,250.6 219.5,251.5 220.5,250.6 221.5,248.5 222.5,247.5 223.5,247.1 224.5,247.5 225.5,248.5 226.5,250.6 227.5,250.6 228.5,248.5 235.5,248.5 242.3,248.5 243.3,247.8 244.3,247.5 245.3,247.8 246.3,248.5 247.3,249.1 248.3,249.5 249.3,249.5 250.3,249.1 251.3,248.5 257.3,248.5 258.3,246.7 259.3,245.6 260.3,245.6 261.3,246.7 262.3,248.5 263.3,248.9 264.3,249.1 265.3,248.9 266.3,248.5 267.3,247.8 268.3,247.5 269.3,247.8 270.3,248.5 271.3,249.7 272.3,250.4 273.3,250.4 274.3,249.7 275.3,248.5 276.3,247.5 277.3,247.1 278.3,247.5 279.3,248.5 280.3,249.3 281.3,249.8 282.3,249.8 283.3,249.3 284.3,248.5 285.3,248.1 286.3,247.9 287.3,247.9 288.3,248.1 289.3,248.5 290.3,248.9 291.3,249.1 292.3,248.9 293.3,248.5 294.3,247.5 295.3,247.1 296.3,247.5 297.3,248.5 298.3,249.7 299.3,250.4 300.3,250.4 301.3,249.7 302.3,248.5 303.3,247.8 304.3,247.5 305.3,247.8 306.3,248.5 307.3,250.2 308.3,250.2 309.3,248.5 310.3,246.4 311.3,246.4 312.3,248.5 313.3,249.4 314.3,249.4 315.3,248.5 316.3,247.5 317.3,247.1 318.3,247.5 319.3,248.5 320.3,249.9 321.3,250.5 322.3,249.9 323.3,248.5 324.3,247.8 325.3,247.5 326.3,247.8 327.3,248.5 328.3,249.5 329.3,249.9 330.3,249.5 331.3,248.5 332.3,248.1 333.3,247.9 334.3,247.9 335.3,248.1 336.3,248.5 337.3,248.9 338.3,249.1 339.3,249.1 340.3,248.9 341.3,248.5 342.3,246.8 343.3,246.8 344.3,248.5 345.3,250.2 346.3,250.2 347.3,248.5 348.3,247.5 349.3,247.1 350.3,247.5 351.3,248.5 352.3,249.7 353.3,250.4 354.3,250.4 355.3,249.7 356.3,248.5 357.3,247.1 358.3,246.5 359.3,247.1 360.3,248.5 361.3,249.3 362.3,249.8 363.3,249.8 364.3,249.3 365.3,248.5 366.3,247.1 367.3,246.2 368.3,246.2 369.3,247.1 370.3,248.5 371.3,251.1 372.3,251.1 373.3,248.5 374.3,247.3 375.3,246.6 376.3,246.6 377.3,247.3 378.3,248.5 379.3,249.5 380.3,249.9 381.3,249.5 382.3,248.5 383.3,246.7 384.3,245.6 385.3,245.6 386.3,246.7 387.3,248.5 388.3,249.7 389.3,250.4 390.3,250.4 391.3,249.7 392.3,248.5 393.3,247.8 394.3,247.5 395.3,247.8 396.3,248.5 397.3,249.2 398.3,249.5 399.3,249.2 400.3,248.5 401.3,247.9 402.3,247.5 403.3,247.5 404.3,247.9 405.3,248.5 406.3,250.6 407.3,251.5 408.3,250.6 409.3,248.5 410.3,246.4 411.3,246.4 412.3,248.5 413.3,249.7 414.3,250.4 415.3,250.4 416.3,249.7 417.3,248.5 426.9,248.5 427.9,247.3 428.9,247.3 429.9,248.5 430.9,249.7 431.9,250.4 432.9,250.4 433.9,249.7 434.9,248.5 435.9,247.5 436.9,247.1 437.9,247.5 438.9,248.5 439.9,250.2 440.9,250.9 441.9,250.2 442.9,248.5 449.1,248.5 450.1,247.5 451.1,247.1 452.1,247.5 453.1,248.5 454.1,249.3 455.1,249.8 456.1,249.8 457.1,249.3 458.1,248.5 459.1,247.1 460.1,246.5 461.1,247.1 462.1,248.5 463.1,250.6 464.1,251.5 465.1,250.6 466.1,248.5 467.1,247.6 468.1,247.6 469.1,248.5 470.1,249.9 471.1,250.5 472.1,249.9 473.1,248.5 474.1,245.9 475.1,245.9 476.1,248.5 477.1,249.3 478.1,249.8 479.1,249.8 480.1,249.3 481.1,248.5 482.1,246.8 483.1,246.1 484.1,246.8 485.1,248.5 486.1,249.9 487.1,250.5 488.1,249.9 489.1,248.5 490.1,247.1 491.1,246.5 492.1,247.1 493.1,248.5 494.1,249.3 495.1,249.8 496.1,249.8 497.1,249.3 498.1,248.5 499.1,246.8 500.1,246.8 501.1,248.5 502.1,250.6 503.1,251.5 504.1,250.6 505.1,248.5 506.1,247.7 507.1,247.2 508.1,247.2 509.1,247.7 510.1,248.5 511.1,249.9 512.1,250.5 513.1,249.9 514.1,248.5 515.1,246.8 516.1,246.1 517.1,246.8 518.1,248.5 519.1,249.2 520.1,249.5 521.1,249.2 522.1,248.5 523.1,247.7 524.1,247.2 525.1,247.2 526.1,247.7 527.1,248.5 528.1,248.9 529.1,249.1 530.1,248.9 531.1,248.5 539.6,248.5 540.6,246.8 541.6,246.8 542.6,248.5 543.6,249.9 544.6,250.8 545.6,250.8 546.6,249.9 547.6,248.5 548.6,245.9 549.6,245.9 550.6,248.5 551.6,249.5 552.6,249.9 553.6,249.5 554.6,248.5 555.6,246.8 556.6,246.8 557.6,248.5 558.6,249.7 559.6,250.4 560.6,250.4 561.6,249.7 562.6,248.5 563.6,247.3 564.6,247.3 565.6,248.5 566.6,250.6 567.6,251.5 568.6,250.6 569.6,248.5 570.6,247.1 571.6,246.2 572.6,246.2 573.6,247.1 574.6,248.5 575.6,249.4 576.6,249.4 577.6,248.5 578.6,247.7 579.6,247.2 580.6,247.2 581.6,247.7 582.6,248.5 583.6,250.6 584.6,251.5 585.6,250.6 586.6,248.5 587.6,247.1 588.6,246.2 589.6,246.2 590.6,247.1 591.6,248.5 592.6,249.7 593.6,250.4 594.6,250.4 595.6,249.7 596.6,248.5 597.6,247.1 598.6,246.5 599.6,247.1 600.6,248.5 601.6,248.9 602.6,249.1 603.6,249.1 604.6,248.9 605.6,248.5 606.6,247.6 607.6,247.6 608.6,248.5 609.6,249.7 610.6,249.7 611.6,248.5 612.6,248.1 613.6,247.9 614.6,248.1 615.6,248.5 616.6,249.9 617.6,250.8 618.6,250.8 619.6,249.9 620.6,248.5 621.6,247.3 622.6,246.6 623.6,246.6 624.6,247.3 625.6,248.5 626.6,249.7 627.6,249.7 628.6,248.5 629.6,247.7 630.6,247.2 631.6,247.2 632.6,247.7 633.6,248.5 634.6,249.3 635.6,249.8 636.6,249.8 637.6,249.3 638.6,248.5 639.6,247.3 640.6,246.6 641.6,246.6 642.6,247.3 643.6,248.5 644.6,249.5 645.6,249.9 646.6,249.5 647.6,248.5 648.6,247.3 649.6,246.6 650.6,246.6 651.6,247.3 652.6,248.5 660.2,248.5 661.2,249.2 662.2,249.5 663.2,249.2 664.2,248.5 665.2,248.1 666.2,247.9 667.2,248.1 668.2,248.5 669.2,248.9 670.2,249.1 671.2,249.1 672.2,248.9 673.2,248.5 674.2,246.7 675.2,245.6 676.2,245.6 677.2,246.7 678.2,248.5 679.2,249.7 680.2,249.7 681.2,248.5 688.7,248.5 689.7,247.7 690.7,247.2 691.7,247.2 692.7,247.7 693.7,248.5 694.7,249.2 695.7,249.5 696.7,249.2 697.7,248.5 698.7,246.7 699.7,245.6 700.7,245.6 701.7,246.7 702.7,248.5 703.7,249.5 704.7,249.9 705.7,249.5 706.7,248.5 707.7,247.7 708.7,247.2 709.7,247.2 710.7,247.7 711.7,248.5 712.7,249.7 713.7,250.4 714.7,250.4 715.7,249.7 716.7,248.5 717.7,247.1 718.7,246.5 719.7,247.1 720.7,248.5 721.7,250.6 722.7,251.5 723.7,250.6 724.7,248.5 725.7,247.8 726.7,247.5 727.7,247.8 728.7,248.5 729.7,248.9 730.7,249.1 731.7,248.9 732.7,248.5 733.7,247.7 734.7,247.2 735.7,247.2 736.7,247.7 737.7,248.5 738.7,250.6 739.7,251.5 740.7,250.6 741.7,248.5 742.7,247.7 743.7,247.2 744.7,247.2 745.7,247.7 746.7,248.5 747.7,249.9 748.7,250.5 749.7,249.9 750.7,248.5 751.7,246.8 752.7,246.1 753.7,246.8 754.7,248.5 755.7,249.3 756.7,249.8 757.7,249.8 758.7,249.3 759.7,248.5 760.7,247.1 761.7,246.5 762.7,247.1 763.7,248.5 774.7,248.5 775.7,248.9 776.7,249.1 777.7,248.9 778.7,248.5 779.7,246.8 780.7,246.1 781.7,246.8 782.7,248.5 783.7,249.1 784.7,249.5 785.7,249.5 786.7,249.1 787.7,248.5 788.7,247.1 789.7,246.5 790.7,247.1 791.7,248.5 792.7,249.0 793.7,249.0 794.7,248.5 795.7,247.7 796.7,247.2 797.7,247.2 798.7,247.7 799.7,248.5 800.7,249.5 801.7,249.9 802.7,249.5 803.7,248.5 804.7,246.7 805.7,245.6 806.7,245.6 807.7,246.7 808.7,248.5 820.1,248.5 821.1,250.2 822.1,250.9 823.1,250.2 824.1,248.5 825.1,247.1 826.1,246.5 827.1,247.1 828.1,248.5 829.1,249.2 830.1,249.5 831.1,249.2 832.1,248.5 833.1,246.8 834.1,246.8 835.1,248.5 836.1,249.9 837.1,250.8 838.1,250.8 839.1,249.9 840.1,248.5 841.1,247.1 842.1,246.5 843.1,247.1 844.1,248.5 845.1,249.7 846.1,249.7 847.1,248.5 848.1,247.8 849.1,247.5 850.1,247.8 851.1,248.5 852.1,249.2 853.1,249.5 854.1,249.2 855.1,248.5 856.1,247.5 857.1,247.1 858.1,247.5 859.1,248.5 860.1,250.2 861.1,250.9 862.1,250.2 863.1,248.5 874.4,248.5 875.4,246.7 876.4,245.6 877.4,245.6 878.4,246.7 879.4,248.5 880.4,249.2 881.4,249.5 882.4,249.2 883.4,248.5 884.4,247.1 885.4,246.5 886.4,247.1 887.4,248.5 897.5,248.5 898.5,249.9 899.5,250.8 900.5,250.8 901.5,249.9 902.5,248.5 903.5,246.7 904.5,245.6 905.5,245.6 906.5,246.7 907.5,248.5 908.5,248.9 909.5,249.1 910.5,249.1 911.5,248.9 912.5,248.5 913.5,247.8 914.5,247.5 915.5,247.8 916.5,248.5 917.5,250.2 918.5,250.9 919.5,250.2 920.5,248.5 921.5,247.7 922.5,247.2 923.5,247.2 924.5,247.7 925.5,248.5 926.5,248.9 927.5,249.1 928.5,248.9 929.5,248.5 930.5,247.5 931.5,247.1 932.5,247.5 933.5,248.5 934.5,249.1 935.5,249.5 936.5,249.5 937.5,249.1 938.5,248.5 945.4,248.5 946.4,247.3 947.4,246.6 948.4,246.6 949.4,247.3 950.4,248.5 951.4,250.6 952.4,250.6 953.4,248.5 954.4,248.1 955.4,247.9 956.4,248.1 957.4,248.5 958.4,249.5 959.4,249.9 960.4,249.5 961.4,248.5 962.4,246.4 963.4,245.5 964.4,246.4 965.4,248.5 966.4,249.7 967.4,250.4 968.4,250.4 969.4,249.7 970.4,248.5 971.4,247.3 972.4,247.3 973.4,248.5 983.8,248.5 984.8,249.2 985.8,249.5 986.8,249.2 987.8,248.5 988.8,246.4 989.8,245.5 990.8,246.4 991.8,248.5 992.8,250.2 993.8,250.2 994.8,248.5 995.8,247.1 996.8,246.5 997.8,247.1 998.8,248.5 999.8,248.9 1000.8,249.1 1001.8,248.9 1002.8,248.5 1003.8,246.8 1004.8,246.8 1005.8,248.5 1006.8,249.9 1007.8,250.8 1008.8,250.8 1009.8,249.9 1010.8,248.5 1011.8,247.9 1012.8,247.5 1013.8,247.5 1014.8,247.9 1015.8,248.5 1016.8,250.2 1017.8,250.9 1018.8,250.2 1019.8,248.5 1020.8,247.9 1021.8,247.5 1022.8,247.5 1023.8,247.9 1024.8,248.5 1025.8,250.2 1026.8,250.9 1027.8,250.2 1028.8,248.5 1035.8,248.5 1036.8,246.4 1037.8,246.4 1038.8,248.5 1039.8,249.2 1040.8,249.5 1041.8,249.2 1042.8,248.5 1043.8,247.8 1044.8,247.5 1045.8,247.8 1046.8,248.5 1047.8,249.9 1048.8,250.8 1049.8,250.8 1050.8,249.9 1051.8,248.5 1052.8,246.8 1053.8,246.8 1054.8,248.5 1055.8,250.6 1056.8,251.5 1057.8,250.6 1058.8,248.5 1059.8,247.1 1060.8,246.2 1061.8,246.2 1062.8,247.1 1063.8,248.5 1073.2,248.5 1074.2,249.7 1075.2,250.4 1076.2,250.4 1077.2,249.7 1078.2,248.5 1079.2,246.8 1080.2,246.8 1081.2,248.5 1082.2,248.9 1083.2,249.1 1084.2,248.9 1085.2,248.5 1095.6,248.5 1096.6,247.1 1097.6,246.2 1098.6,246.2 1099.6,247.1 1100.6,248.5 1101.6,250.6 1102.6,251.5 1103.6,250.6 1104.6,248.5 1105.6,247.5 1106.6,247.1 1107.6,247.5 1108.6,248.5 1109.6,249.9 1110.6,250.5 1111.6,249.9 1112.6,248.5 1113.6,247.1 1114.6,246.5 1115.6,247.1 1116.6,248.5 1117.6,249.1 1118.6,249.5 1119.6,249.5 1120.6,249.1 1121.6,248.5 1122.6,247.9 1123.6,247.5 1124.6,247.5 1125.6,247.9 1126.6,248.5 1127.6,249.5 1128.6,249.9 1129.6,249.5 1130.6,248.5 1131.6,247.8 1132.6,247.5 1133.6,247.8 1134.6,248.5 1135.6,249.7 1136.6,249.7 1137.6,248.5 1138.6,247.5 1139.6,247.1 1140.6,247.5 1141.6,248.5 1142.6,249.7 1143.6,249.7 1144.6,248.5 1145.6,246.8 1146.6,246.1 1147.6,246.8 1148.6,248.5 1149.6,250.3 1150.6,251.4 1151.6,251.4 1152.6,250.3 1153.6,248.5 1154.6,247.1 1155.6,246.5 1156.6,247.1 1157.6,248.5 1158.6,249.2 1159.6,249.5 1160.6,249.2 1161.6,248.5 1161.6,249.3 1163.1,250.3 1164.6,250.3 1166.1,249.2 1167.6,249.0 1169.1,249.4 1170.6,248.6 1172.1,248.8 1173.6,248.4 1175.1,248.9 1176.6,249.0 1178.1,249.3 1179.6,248.4 1181.1,249.2 1182.6,249.7 1184.1,249.3 1185.6,249.1 1187.1,248.9 1188.6,249.9 1190.1,250.8 1191.6,251.2 1193.1,250.7 1194.6,251.6 1196.1,251.7 1197.6,250.8 1199.1,250.9 1200.6,251.1 1202.1,251.1 1203.6,250.9 1205.1,250.0 1206.6,249.7 1208.1,249.4 1209.6,250.3 1211.1,249.0 1212.6,250.2 1214.1,248.6 1215.6,249.7 1217.1,249.5 1218.6,249.3 1220.1,248.6 1221.6,248.6 1223.1,249.2 1224.6,249.9 1226.1,249.3 1227.6,249.2 1229.1,249.5 1230.6,250.2 1232.1,250.0 1233.6,249.2 1235.1,249.1 1236.6,249.8 1238.1,249.2 1239.6,248.9 1241.1,249.4 1242.6,248.8 1244.1,249.4 1245.6,248.6 1247.1,249.7 1248.6,248.4 1250.1,249.0 1251.6,249.1 1253.1,250.2 1254.6,250.4 1256.1,249.8 1257.6,251.3 1259.1,251.0 1260.6,251.6 1262.1,251.1 1263.6,251.5 1265.1,251.9 1266.6,250.6 1268.1,251.4 1269.6,250.7 1271.1,249.9 1272.6,250.1 1274.1,250.0 1275.6,250.4 1277.1,249.6 1278.6,250.0 1280.1,249.8 1281.6,249.5 1283.1,249.6 1284.6,249.1 1286.1,248.2 1287.6,249.5 1289.1,250.0 1290.6,249.3 1292.1,249.8 1293.6,248.8 1295.1,250.3 1296.6,250.4 1298.1,250.6 1299.6,250.6 1301.1,249.1 1302.6,249.6 1304.1,250.4 1305.6,250.1 1307.1,249.9 1308.6,249.3 1310.1,248.9 1311.6,249.3 1313.1,249.5 1314.6,250.0 1316.1,249.1 1317.6,250.2 1319.1,249.2 1320.6,250.6 1322.1,250.5 1323.6,250.6 1325.1,251.1 1326.6,250.7 1328.1,251.4 1329.6,250.9 1331.1,251.2 1332.6,251.8 1334.1,251.2 1335.6,251.5 1337.1,250.5 1338.6,250.3 1340.1,250.1 1341.6,249.4 1343.1,249.6 1344.6,248.9 1346.1,248.5 1347.6,249.0 1349.1,248.4 1350.6,248.8 1352.1,248.7 1353.6,248.6 1355.1,248.5 1356.6,249.7 1358.1,249.8 1359.6,248.9 1361.1,249.1 1362.6,249.8 1364.1,250.6 1365.6,249.4 1367.1,250.7 1368.6,249.5 1370.1,250.5 1371.6,249.8 1373.1,249.9 1374.6,249.3 1376.1,249.6 1377.6,248.9 1379.1,249.7 1380.6,250.0 1382.1,250.2 1383.6,250.2 1385.1,249.9 1386.6,249.2 1388.1,250.9 1389.6,249.8 1391.1,249.7 1392.6,251.1 1394.1,250.9 1395.6,250.2 1397.1,250.0 1398.6,250.0 1400.1,250.0 1401.6,250.4 1403.1,249.9 1404.6,249.0 1406.1,249.0 1407.6,248.1 1409.1,247.8 1410.6,248.3 1412.1,248.5 1413.6,247.4 1415.1,248.0 1416.6,247.6 1418.1,246.9 1419.6,247.7 1421.1,247.7 1422.6,247.5 1424.1,247.5 1425.6,248.4" stroke="#0038c0" stroke-width="1.4" shape-rendering="geometricPrecision"/>
<polyline points="96.2,366.9 97.5,365.6 98.9,367.7 100.2,364.1 101.6,365.4 102.9,360.7 104.3,362.5 105.6,364.1 107.0,365.6 108.3,364.1 109.7,366.8 111.0,364.8 112.4,368.3 113.7,369.2 115.1,366.9 116.4,365.1 117.8,370.1 119.1,369.0 120.5,369.6 121.8,369.6 123.2,368.3 124.5,367.3 125.9,366.6 127.2,362.2 128.6,364.0 129.9,361.9 131.3,364.2 132.6,361.9 134.0,358.8 135.3,359.8 136.7,357.3 138.0,359.9 139.4,360.5 140.7,358.0 142.1,356.1 143.4,357.1 144.8,355.5 146.1,356.0 147.5,358.2 148.8,358.0 150.2,358.4 151.5,360.5 152.9,361.1 154.2,359.1 155.6,361.0 156.9,364.0 158.3,362.9 159.6,367.2 161.0,360.4 162.3,366.5 163.7,367.8 165.0,366.3 166.4,365.9 167.7,374.0 169.1,374.2 170.4,370.7 171.8,374.8 173.1,369.3 174.5,375.2 175.8,368.4 177.2,366.6 178.5,369.8 179.9,373.1 181.2,365.3 182.6,367.8 183.9,372.8 185.3,367.6 186.6,374.5 188.0,370.1 189.3,369.8 190.7,370.1 192.0,369.6 193.4,366.6 194.7,363.4 196.1,364.6 197.4,367.2 198.8,359.9 200.1,364.3 201.5,366.6 202.8,361.1 204.2,363.3 205.5,364.4 206.9,362.4 208.2,361.3 209.6,363.5 210.9,359.6 212.3,357.6 213.6,360.9 215.0,358.3 216.3,362.3 217.7,359.9 219.0,360.3 220.4,358.5 221.7,364.0 223.1,359.4 224.4,362.9 225.8,358.4 227.1,364.5 228.5,363.9 229.8,364.2 231.2,363.4 232.5,363.9 233.9,361.5 235.2,360.8 236.6,362.5 237.9,364.3 239.3,360.6 240.6,358.6 242.0,363.6 243.3,365.5 244.7,363.0 246.0,364.2 247.4,366.4 248.7,361.3 250.1,362.0 251.4,364.2 252.8,364.6 254.1,363.0 255.5,363.0 256.8,364.7 258.2,363.0 259.5,366.3 260.9,366.4 262.2,362.9 263.6,363.1 264.9,366.4 266.3,368.3 267.6,365.1 269.0,363.4 270.3,363.5 271.7,368.9 273.0,364.5 274.4,369.0 275.7,368.1 277.1,366.8 278.4,364.3 279.8,366.4 281.1,364.8 282.5,367.2 283.8,366.8 285.2,366.8 286.5,365.4 287.9,366.4 289.2,360.9 290.6,362.1 291.9,367.6 293.3,368.1 294.6,365.2 296.0,365.8 297.4,364.6 298.7,362.5 300.1,363.5 301.4,366.2 302.8,362.2 304.1,361.6 305.5,362.1 306.8,361.0 308.2,363.0 309.5,365.0 310.9,363.8 312.2,361.7 313.6,362.5 314.9,364.9 316.3,360.2 317.6,360.3 319.0,362.2 320.3,361.7 321.7,362.1 323.0,363.6 324.4,360.0 325.7,363.0 327.1,362.7 328.4,366.5 329.8,358.9 331.1,360.7 332.5,362.4 333.8,362.7 335.2,358.9 336.5,365.9 337.9,368.5 339.2,361.9 340.6,363.4 341.9,363.0 343.3,362.5 344.6,361.7 346.0,362.5 347.3,363.9 348.7,362.0 350.0,362.4 351.4,367.4 352.7,367.2 354.1,362.4 355.4,365.4 356.8,364.8 358.1,367.1 359.5,364.8 360.8,368.1 362.2,364.1 363.5,364.1 364.9,368.7 366.2,364.8 367.6,365.4 368.9,366.5 370.3,364.2 371.6,368.8 373.0,364.9 374.3,365.9 375.7,366.1 377.0,367.8 378.4,368.5 379.7,367.5 381.1,365.3 382.4,366.2 383.8,366.1 385.1,363.1 386.5,363.6 387.8,361.6 389.2,362.7 390.5,361.8 391.9,365.4 393.2,358.9 394.6,361.2 395.9,365.6 397.3,364.1 398.6,363.0 400.0,361.8 401.3,364.0 402.7,364.8 404.0,364.0 405.4,365.1 406.7,366.5 408.1,362.5 409.4,366.8 410.8,364.5 412.1,366.4 413.5,365.2 414.8,365.5 416.2,366.7 417.5,362.8 418.9,362.7 420.2,365.1 421.6,365.0 422.9,364.8 424.3,366.4 425.6,367.5 427.0,365.5 428.3,368.9 429.7,368.2 431.0,365.7 432.4,367.8 433.7,363.5 435.1,363.7 436.4,367.7 437.8,367.0 439.1,366.3 440.5,366.0 441.8,364.2 443.2,365.3 444.5,363.4 445.9,363.2 447.2,363.6 448.6,364.1 449.9,363.4 451.3,365.2 452.6,364.6 454.0,364.0 455.3,363.3 456.7,365.1 458.0,362.4 459.4,362.2 460.7,364.8 462.1,365.6 463.4,366.8 464.8,366.5 466.1,366.1 467.5,367.4 468.8,366.3 470.2,366.8 471.5,364.3 472.9,367.9 474.2,368.3 475.6,364.8 476.9,365.1 478.3,366.3 479.6,367.6 481.0,364.8 482.3,366.3 483.7,366.4 485.0,367.2 486.4,364.2 487.7,365.8 489.1,363.4 490.4,366.5 491.8,362.8 493.1,366.7 494.5,366.1 495.8,364.5 497.2,366.9 498.5,363.6 499.9,367.2 501.2,362.2 502.6,364.9 503.9,362.8 505.3,364.9 506.6,365.3 508.0,362.0 509.3,365.9 510.7,363.2 512.0,364.8 513.4,362.6 514.7,365.8 516.1,361.9 517.4,362.1 518.8,362.0 520.1,361.6 521.5,364.6 522.8,364.6 524.2,365.0 525.5,363.1 526.9,360.1 528.2,359.6 529.6,361.2 530.9,362.8 532.3,359.6 533.6,362.0 535.0,359.7 536.3,361.0 537.7,361.5 539.0,365.2 540.4,362.3 541.7,359.6 543.1,360.2 544.4,361.2 545.8,359.1 547.1,359.4 548.5,360.7 549.8,357.9 551.2,360.5 552.5,356.4 553.9,357.7 555.2,357.1 556.6,357.7 557.9,362.8 559.3,360.2 560.6,359.5 562.0,363.7 563.3,363.1 564.7,360.5 566.0,362.5 567.4,363.1 568.7,362.1 570.1,363.2 571.4,362.1 572.8,365.7 574.1,364.0 575.5,363.6 576.8,363.8 578.2,365.8 579.5,365.1 580.9,362.4 582.2,364.0 583.6,365.8 584.9,364.2 586.3,365.8 587.6,363.5 589.0,364.8 590.3,367.2 591.7,365.1 593.0,365.4 594.4,366.3 595.7,364.5 597.1,364.3 598.4,367.7 599.8,364.2 601.1,367.6 602.5,366.6 603.8,365.0 605.2,368.9 606.5,364.5 607.9,364.7 609.2,365.0 610.6,364.3 611.9,367.8 613.3,364.4 614.6,366.8 616.0,365.9 617.3,367.0 618.7,365.7 620.0,365.6 621.4,367.2 622.7,366.0 624.1,363.9 625.4,365.4 626.8,365.9 628.1,363.8 629.5,363.9 630.8,364.9 632.2,365.4 633.5,367.1 634.9,366.2 636.2,367.8 637.6,368.9 638.9,366.4 640.3,370.2 641.6,367.2 643.0,367.6 644.3,369.3 645.7,367.9 647.0,366.1 648.4,367.5 649.7,366.2 651.1,365.5 652.4,366.4 653.8,368.8 655.1,366.0 656.5,368.1 657.8,368.6 659.2,367.0 660.5,366.6 661.9,369.2 663.2,369.5 664.6,365.3 665.9,368.7 667.3,364.3 668.6,368.8 670.0,370.0 671.3,367.7 672.7,368.2 674.0,367.8 675.4,369.2 676.7,365.7 678.1,364.7 679.4,367.4 680.8,369.2 682.1,365.8 683.5,368.8 684.8,368.3 686.2,365.8 687.5,368.2 688.9,368.8 690.2,365.8 691.6,366.4 692.9,366.3 694.3,366.6 695.6,367.5 697.0,368.5 698.3,366.6 699.7,368.9 701.0,368.7 702.4,367.1 703.7,368.7 705.1,370.5 706.4,369.7 707.8,370.3 709.1,368.6 710.5,368.8 711.8,371.6 713.2,370.8 714.5,372.5 715.9,372.0 717.2,369.5 718.6,372.4 719.9,369.1 721.3,370.3 722.6,371.5 724.0,370.1 725.3,367.6 726.7,371.2 728.0,373.0 729.4,369.9 730.7,372.6 732.1,372.6 733.4,369.6 734.8,369.5 736.1,371.7 737.5,369.9 738.8,373.3 740.2,371.5 741.5,372.8 742.9,372.0 744.2,373.9 745.6,371.7 746.9,372.2 748.3,371.8 749.6,372.1 751.0,371.7 752.3,373.9 753.7,373.4 755.0,369.6 756.4,373.8 757.7,371.7 759.1,372.1 760.4,370.9 761.8,370.6 763.1,372.5 764.5,369.9 765.8,372.1 767.2,369.7 768.5,369.7 769.9,369.5 771.2,371.5 772.6,369.7 773.9,369.4 775.3,370.0 776.6,369.1 778.0,369.4 779.3,370.2 780.7,371.4 782.0,372.3 783.4,369.9 784.7,372.3 786.1,370.5 787.4,372.7 788.8,371.4 790.1,372.3 791.5,372.5 792.8,372.0 794.2,370.2 795.5,371.2 796.9,371.3 798.2,371.2 799.6,371.7 800.9,370.7 802.3,372.1 803.6,373.4 805.0,371.5 806.3,370.0 807.7,373.6 809.0,370.7 810.4,372.4 811.7,372.5 813.1,370.4 814.4,372.7 815.8,373.1 817.1,372.0 818.5,373.1 819.8,372.4 821.2,371.7 822.5,370.1 823.9,373.1 825.2,368.7 826.6,372.5 827.9,370.9 829.3,372.0 830.6,370.7 832.0,371.4 833.3,370.5 834.7,370.3 836.0,371.3 837.4,368.1 838.7,372.0 840.1,368.4 841.4,368.6 842.8,368.7 844.1,368.2 845.5,369.1 846.8,369.1 848.2,371.0 849.5,369.6 850.9,368.0 852.2,367.4 853.6,367.7 854.9,368.6 856.3,368.4 857.6,369.0 859.0,368.6 860.3,367.9 861.7,368.6 863.0,366.7 864.4,366.2 865.7,367.4 867.1,365.3 868.4,367.8 869.8,364.7 871.1,365.6 872.5,364.6 873.8,364.5 875.2,363.2 876.5,366.0 877.9,367.0 879.2,368.5 880.6,363.0 881.9,363.4 883.3,365.9 884.6,365.8 886.0,366.0 887.3,364.2 888.7,363.6 890.0,365.2 891.4,363.1 892.7,362.3 894.1,363.2 895.4,364.9 896.8,365.7 898.1,364.2 899.5,366.1 900.8,365.7 902.2,365.1 903.5,365.6 904.9,366.0 906.2,365.2 907.6,365.0 908.9,364.4 910.3,363.6 911.6,364.4 913.0,363.9 914.3,367.3 915.7,364.0 917.0,367.6 918.4,365.2 919.7,366.6 921.1,364.2 922.4,365.2 923.8,365.7 925.1,364.1 926.5,364.9 927.8,367.1 929.2,365.1 930.5,367.1 931.9,365.5 933.2,366.1 934.6,365.3 935.9,365.4 937.3,364.8 938.6,366.0 940.0,364.2 941.3,367.1 942.7,363.9 944.0,368.3 945.4,363.9 946.7,364.7 948.1,363.9 949.4,364.5 950.8,366.7 952.1,367.6 953.5,366.8 954.8,365.3 956.2,366.1 957.5,365.5 958.9,366.7 960.2,369.3 961.6,367.2 962.9,369.8 964.3,369.0 965.6,368.0 967.0,367.0 968.3,370.2 969.7,367.6 971.0,368.3 972.4,368.3 973.7,366.5 975.1,369.0 976.4,368.2 977.8,368.0 979.1,369.1 980.5,367.3 981.8,366.6 983.2,366.1 984.5,367.0 985.9,366.1 987.2,369.9 988.6,367.0 989.9,366.5 991.3,367.4 992.6,368.0 994.0,367.3 995.3,371.2 996.7,371.0 998.0,370.4 999.4,367.9 1000.7,367.4 1002.1,369.9 1003.4,367.0 1004.8,370.3 1006.1,369.8 1007.5,370.5 1008.8,368.4 1010.2,367.4 1011.5,367.9 1012.9,367.3 1014.2,367.8 1015.6,370.6 1016.9,370.1 1018.3,369.1 1019.6,368.3 1021.0,369.3 1022.3,369.9 1023.7,366.4 1025.0,369.2 1026.4,367.0 1027.7,368.0 1029.1,369.8 1030.4,368.4 1031.8,368.2 1033.1,367.9 1034.5,370.3 1035.8,369.5 1037.2,370.2 1038.5,368.0 1039.9,369.7 1041.2,368.2 1042.6,369.2 1043.9,369.8 1045.3,368.9 1046.6,370.1 1048.0,368.9 1049.3,369.5 1050.7,370.1 1052.0,369.4 1053.4,368.4 1054.7,372.6 1056.1,369.7 1057.4,367.9 1058.8,368.4 1060.1,372.5 1061.5,369.1 1062.8,370.5 1064.2,368.6 1065.5,371.2 1066.9,368.6 1068.2,369.5 1069.6,370.4 1070.9,369.9 1072.3,371.3 1073.6,371.2 1075.0,370.7 1076.3,370.1 1077.7,370.2 1079.0,370.9 1080.4,371.9 1081.7,370.8 1083.1,368.6 1084.4,370.2 1085.8,370.1 1087.1,369.0 1088.5,369.9 1089.8,368.9 1091.2,368.8 1092.5,371.0 1093.9,369.9 1095.2,367.4 1096.6,369.6 1097.9,370.1 1099.3,367.6 1100.6,369.4 1102.0,370.8 1103.3,371.2 1104.7,368.9 1106.0,371.1 1107.4,368.7 1108.7,369.6 1110.1,370.1 1111.4,370.5 1112.8,369.7 1114.1,370.6 1115.5,368.5 1116.8,369.9 1118.2,369.2 1119.5,373.1 1120.9,370.9 1122.2,371.1 1123.6,372.5 1124.9,372.1 1126.3,371.1 1127.6,370.0 1129.0,370.6 1130.3,373.0 1131.7,371.2 1133.0,370.8 1134.4,371.4 1135.7,371.4 1137.1,369.7 1138.4,369.3 1139.8,371.8 1141.1,372.1 1142.5,373.9 1143.8,373.6 1145.2,371.8 1146.5,375.2 1147.9,375.2 1149.2,373.9 1150.6,375.7 1151.9,377.5 1153.3,378.0 1154.6,376.4 1156.0,377.1 1157.3,377.5 1158.7,379.3 1160.0,377.9 1161.4,378.2 1162.7,378.3 1164.1,381.3 1165.4,380.4 1166.8,381.3 1168.1,380.9 1169.5,380.3 1170.8,381.6 1172.2,382.9 1173.5,381.9 1174.9,382.9 1176.2,384.2 1177.6,382.5 1178.9,385.2 1180.3,384.0 1181.6,383.7 1183.0,386.7 1184.3,384.6 1185.7,387.2 1187.0,385.7 1188.4,385.6 1189.7,386.0 1191.1,388.0 1192.4,386.9 1193.8,385.8 1195.1,388.0 1196.5,388.1 1197.8,388.5 1199.2,388.4 1200.5,388.5 1201.9,386.2 1203.2,387.9 1204.6,388.5 1205.9,387.4 1207.2,386.1 1208.6,386.0 1209.9,384.3 1211.3,385.1 1212.6,383.5 1214.0,380.3 1215.3,379.3 1216.7,381.2 1218.0,380.1 1219.4,379.9 1220.7,377.1 1222.1,375.1 1223.4,379.0 1224.8,376.0 1226.1,375.2 1227.5,375.4 1228.8,376.4 1230.2,373.3 1231.5,374.1 1232.9,374.7 1234.2,374.6 1235.6,375.5 1236.9,376.4 1238.3,377.6 1239.6,377.1 1241.0,376.6 1242.3,377.5 1243.7,375.4 1245.0,374.5 1246.4,377.8 1247.7,375.3 1249.1,375.0 1250.4,376.2 1251.8,377.5 1253.1,377.5 1254.5,378.6 1255.8,376.9 1257.2,375.6 1258.5,376.8 1259.9,374.7 1261.2,375.1 1262.6,376.8 1263.9,374.7 1265.3,377.4 1266.6,375.2 1268.0,375.7 1269.3,373.1 1270.7,374.8 1272.0,376.1 1273.4,375.4 1274.7,373.7 1276.1,373.3 1277.4,374.3 1278.8,371.5 1280.1,372.9 1281.5,372.8 1282.8,372.7 1284.2,370.7 1285.5,371.3 1286.9,372.9 1288.2,372.7 1289.6,370.2 1290.9,370.5 1292.3,372.4 1293.6,369.6 1295.0,372.9 1296.3,373.7 1297.7,372.8 1299.0,372.3 1300.4,370.9 1301.7,372.5 1303.1,372.7 1304.4,373.0 1305.8,372.2 1307.1,373.5 1308.5,371.1 1309.8,372.4 1311.2,373.5 1312.5,373.9 1313.9,371.8 1315.2,372.9 1316.6,374.6 1317.9,371.9 1319.3,373.0 1320.6,372.5 1322.0,372.7 1323.3,371.3 1324.7,372.3 1326.0,369.6 1327.4,371.3 1328.7,371.8 1330.1,369.5 1331.4,371.0 1332.8,370.7 1334.1,371.2 1335.5,370.8 1336.8,373.9 1338.2,371.8 1339.5,374.6 1340.9,372.2 1342.2,375.5 1343.6,372.6 1344.9,374.7 1346.3,371.6 1347.6,372.4 1349.0,371.4 1350.3,373.6 1351.7,373.0 1353.0,373.5 1354.4,372.7 1355.7,373.4 1357.1,371.1 1358.4,375.5 1359.8,375.4 1361.1,375.8 1362.5,374.5 1363.8,376.6 1365.2,376.0 1366.5,376.2 1367.9,376.6 1369.2,378.6 1370.6,375.2 1371.9,377.2 1373.3,376.0 1374.6,375.0 1376.0,374.5 1377.3,375.6 1378.7,376.8 1380.0,376.9 1381.4,374.7 1382.7,374.6 1384.1,374.7 1385.4,377.0 1386.8,373.8 1388.1,373.6 1389.5,374.2 1390.8,375.4 1392.2,373.8 1393.5,373.3 1394.9,374.4 1396.2,374.7 1397.6,375.4 1398.9,375.5 1400.3,375.4 1401.6,375.1 1403.0,374.5 1404.3,372.7 1405.7,373.2 1407.0,373.3 1408.4,370.9 1409.7,370.0 1411.1,370.4 1412.4,368.9 1413.8,372.4 1415.1,371.6 1416.5,371.2 1417.8,371.9 1419.2,370.8 1420.5,371.0 1421.9,370.0 1423.2,370.7 1424.6,372.7 1425.9,373.8" stroke="#000"/>
<polyline points="96.2,347.4 97.5,348.1 98.9,349.3 100.2,342.4 101.6,346.1 102.9,345.3 104.3,346.0 105.6,346.3 107.0,341.6 108.3,348.9 109.7,345.4 111.0,351.1 112.4,346.1 113.7,343.3 115.1,347.6 116.4,348.3 117.8,347.2 119.1,344.2 120.5,347.8 121.8,347.3 123.2,352.5 124.5,356.0 125.9,351.1 127.2,351.5 128.6,345.9 129.9,350.4 131.3,345.4 132.6,348.9 134.0,345.6 135.3,348.8 136.7,346.5 138.0,352.2 139.4,356.2 140.7,349.1 142.1,350.7 143.4,350.8 144.8,350.6 146.1,358.3 147.5,353.4 148.8,354.4 150.2,353.6 151.5,351.8 152.9,353.7 154.2,352.4 155.6,348.1 156.9,356.1 158.3,348.8 159.6,351.7 161.0,347.3 162.3,349.9 163.7,356.3 165.0,356.0 166.4,356.2 167.7,357.4 169.1,352.0 170.4,354.7 171.8,352.4 173.1,352.4 174.5,350.8 175.8,353.2 177.2,351.2 178.5,349.9 179.9,347.0 181.2,346.3 182.6,349.5 183.9,348.3 185.3,345.8 186.6,347.9 188.0,347.6 189.3,345.9 190.7,341.2 192.0,345.2 193.4,343.9 194.7,345.5 196.1,347.3 197.4,345.8 198.8,341.0 200.1,341.2 201.5,342.2 202.8,348.0 204.2,346.5 205.5,348.2 206.9,341.2 208.2,342.8 209.6,342.1 210.9,340.5 212.3,346.1 213.6,338.3 215.0,338.3 216.3,345.7 217.7,346.3 219.0,341.2 220.4,343.3 221.7,341.9 223.1,346.6 224.4,345.3 225.8,350.8 227.1,341.7 228.5,345.9 229.8,341.2 231.2,344.8 232.5,342.4 233.9,346.9 235.2,348.8 236.6,350.0 237.9,346.5 239.3,349.7 240.6,347.1 242.0,351.8 243.3,351.7 244.7,344.7 246.0,352.0 247.4,353.1 248.7,349.5 250.1,350.1 251.4,354.0 252.8,346.1 254.1,350.8 255.5,353.2 256.8,347.1 258.2,346.4 259.5,353.1 260.9,357.8 262.2,348.1 263.6,351.8 264.9,352.7 266.3,352.1 267.6,354.0 269.0,348.0 270.3,354.8 271.7,348.5 273.0,347.2 274.4,350.8 275.7,353.4 277.1,347.0 278.4,353.0 279.8,344.7 281.1,345.1 282.5,347.3 283.8,344.6 285.2,348.9 286.5,347.4 287.9,346.0 289.2,352.5 290.6,349.8 291.9,352.0 293.3,344.1 294.6,343.9 296.0,344.2 297.4,350.6 298.7,349.5 300.1,345.6 301.4,351.4 302.8,346.0 304.1,350.0 305.5,348.6 306.8,353.2 308.2,349.7 309.5,345.4 310.9,347.7 312.2,347.4 313.6,349.9 314.9,346.5 316.3,353.2 317.6,348.4 319.0,350.5 320.3,355.5 321.7,356.0 323.0,353.8 324.4,354.2 325.7,349.2 327.1,352.7 328.4,357.9 329.8,358.0 331.1,349.6 332.5,349.3 333.8,354.2 335.2,354.3 336.5,351.3 337.9,350.4 339.2,353.2 340.6,349.5 341.9,355.8 343.3,351.8 344.6,351.5 346.0,352.7 347.3,352.7 348.7,350.5 350.0,351.8 351.4,346.7 352.7,352.4 354.1,345.9 355.4,350.2 356.8,346.0 358.1,350.7 359.5,352.9 360.8,344.7 362.2,352.1 363.5,353.1 364.9,351.4 366.2,344.7 367.6,349.0 368.9,349.0 370.3,347.8 371.6,346.1 373.0,351.0 374.3,349.2 375.7,348.0 377.0,353.4 378.4,347.8 379.7,351.2 381.1,346.6 382.4,350.2 383.8,350.1 385.1,348.7 386.5,355.1 387.8,348.6 389.2,356.0 390.5,353.1 391.9,349.8 393.2,351.2 394.6,357.2 395.9,354.6 397.3,348.8 398.6,347.2 400.0,352.5 401.3,348.1 402.7,347.5 404.0,346.9 405.4,349.9 406.7,352.0 408.1,345.7 409.4,350.0 410.8,349.7 412.1,351.7 413.5,350.0 414.8,347.4 416.2,351.6 417.5,352.4 418.9,346.9 420.2,349.3 421.6,347.4 422.9,351.3 424.3,349.2 425.6,348.6 427.0,344.9 428.3,345.8 429.7,349.1 431.0,345.6 432.4,349.9 433.7,344.1 435.1,350.4 436.4,349.3 437.8,348.7 439.1,347.7 440.5,349.2 441.8,348.2 443.2,347.6 444.5,348.9 445.9,350.2 447.2,350.5 448.6,350.1 449.9,350.5 451.3,346.7 452.6,346.2 454.0,346.1 455.3,344.5 456.7,344.4 458.0,350.0 459.4,345.0 460.7,345.9 462.1,349.0 463.4,347.7 464.8,346.4 466.1,346.5 467.5,345.4 468.8,350.8 470.2,349.3 471.5,348.0 472.9,349.4 474.2,350.8 475.6,345.9 476.9,350.7 478.3,349.3 479.6,350.3 481.0,345.1 482.3,346.3 483.7,344.9 485.0,344.7 486.4,348.3 487.7,347.2 489.1,348.5 490.4,347.1 491.8,350.4 493.1,346.9 494.5,346.4 495.8,346.0 497.2,345.1 498.5,346.9 499.9,349.0 501.2,343.7 502.6,342.9 503.9,344.8 505.3,348.5 506.6,346.5 508.0,345.8 509.3,342.0 510.7,340.9 512.0,347.3 513.4,343.1 514.7,349.0 516.1,345.1 517.4,347.1 518.8,344.0 520.1,345.1 521.5,342.5 522.8,343.3 524.2,347.6 525.5,343.3 526.9,342.4 528.2,344.5 529.6,345.8 530.9,343.0 532.3,344.2 533.6,348.4 535.0,346.1 536.3,348.4 537.7,349.7 539.0,345.8 540.4,343.7 541.7,344.4 543.1,345.9 544.4,347.7 545.8,346.7 547.1,349.7 548.5,346.3 549.8,350.4 551.2,349.9 552.5,346.3 553.9,346.6 555.2,350.8 556.6,347.8 557.9,348.0 559.3,343.7 560.6,348.6 562.0,345.7 563.3,343.9 564.7,346.8 566.0,347.4 567.4,346.9 568.7,349.0 570.1,343.9 571.4,343.2 572.8,349.2 574.1,347.9 575.5,347.2 576.8,349.2 578.2,342.0 579.5,348.2 580.9,348.7 582.2,344.7 583.6,345.1 584.9,343.4 586.3,347.6 587.6,343.5 589.0,344.6 590.3,346.9 591.7,348.7 593.0,347.3 594.4,348.2 595.7,347.9 597.1,345.3 598.4,346.0 599.8,346.9 601.1,344.6 602.5,345.2 603.8,345.8 605.2,339.5 606.5,347.6 607.9,346.6 609.2,345.3 610.6,345.4 611.9,346.0 613.3,347.4 614.6,342.3 616.0,345.0 617.3,342.4 618.7,345.7 620.0,342.6 621.4,340.0 622.7,347.1 624.1,346.1 625.4,346.1 626.8,341.2 628.1,347.1 629.5,342.3 630.8,346.6 632.2,346.3 633.5,343.6 634.9,349.7 636.2,345.9 637.6,342.8 638.9,348.7 640.3,345.7 641.6,348.0 643.0,342.9 644.3,344.3 645.7,343.4 647.0,346.2 648.4,345.9 649.7,346.7 651.1,347.8 652.4,343.6 653.8,344.4 655.1,348.9 656.5,348.1 657.8,345.8 659.2,349.1 660.5,347.0 661.9,349.1 663.2,346.1 664.6,344.3 665.9,348.2 667.3,346.6 668.6,344.3 670.0,346.8 671.3,343.2 672.7,343.8 674.0,343.3 675.4,344.6 676.7,342.6 678.1,343.8 679.4,341.8 680.8,344.0 682.1,344.0 683.5,345.8 684.8,345.6 686.2,342.6 687.5,341.2 688.9,342.6 690.2,346.6 691.6,344.5 692.9,340.1 694.3,344.0 695.6,344.1 697.0,340.4 698.3,337.8 699.7,342.3 701.0,342.5 702.4,338.1 703.7,343.8 705.1,337.3 706.4,337.7 707.8,339.8 709.1,340.3 710.5,342.6 711.8,344.2 713.2,344.8 714.5,345.6 715.9,342.7 717.2,346.8 718.6,343.8 719.9,344.6 721.3,346.1 722.6,346.3 724.0,345.7 725.3,340.4 726.7,343.1 728.0,341.0 729.4,340.0 730.7,341.0 732.1,340.7 733.4,340.5 734.8,342.4 736.1,340.8 737.5,342.7 738.8,345.0 740.2,345.4 741.5,342.6 742.9,345.2 744.2,346.0 745.6,346.0 746.9,344.4 748.3,344.3 749.6,342.8 751.0,346.2 752.3,345.6 753.7,342.4 755.0,342.5 756.4,340.1 757.7,342.4 759.1,341.9 760.4,341.2 761.8,339.2 763.1,341.0 764.5,341.2 765.8,337.7 767.2,343.6 768.5,342.0 769.9,340.9 771.2,343.9 772.6,342.9 773.9,338.3 775.3,340.9 776.6,338.8 778.0,339.2 779.3,339.3 780.7,340.1 782.0,343.0 783.4,342.8 784.7,342.0 786.1,343.4 787.4,339.3 788.8,337.9 790.1,343.6 791.5,340.5 792.8,342.2 794.2,340.6 795.5,339.1 796.9,341.9 798.2,345.1 799.6,342.9 800.9,345.0 802.3,345.0 803.6,344.1 805.0,343.9 806.3,344.9 807.7,342.5 809.0,341.5 810.4,342.3 811.7,344.1 813.1,348.8 814.4,346.6 815.8,342.9 817.1,343.4 818.5,340.2 819.8,339.8 821.2,340.8 822.5,344.2 823.9,338.2 825.2,339.0 826.6,342.6 827.9,343.6 829.3,338.8 830.6,338.0 832.0,341.5 833.3,343.2 834.7,339.5 836.0,341.9 837.4,339.3 838.7,337.2 840.1,342.5 841.4,337.5 842.8,337.7 844.1,337.0 845.5,339.0 846.8,341.3 848.2,336.2 849.5,337.9 850.9,340.9 852.2,340.1 853.6,337.7 854.9,340.1 856.3,335.4 857.6,337.3 859.0,335.7 860.3,337.8 861.7,340.1 863.0,337.1 864.4,338.5 865.7,334.9 867.1,336.5 868.4,342.2 869.8,340.5 871.1,338.3 872.5,339.5 873.8,343.5 875.2,339.5 876.5,344.0 877.9,344.6 879.2,344.0 880.6,343.0 881.9,344.7 883.3,343.1 884.6,343.7 886.0,341.0 887.3,343.4 888.7,338.6 890.0,340.0 891.4,339.2 892.7,340.4 894.1,339.9 895.4,339.1 896.8,341.4 898.1,337.1 899.5,339.8 900.8,340.4 902.2,341.3 903.5,339.3 904.9,339.2 906.2,339.1 907.6,340.2 908.9,340.5 910.3,341.5 911.6,343.8 913.0,343.5 914.3,342.2 915.7,338.5 917.0,340.9 918.4,343.8 919.7,339.3 921.1,342.7 922.4,338.0 923.8,341.2 925.1,341.3 926.5,342.5 927.8,342.0 929.2,341.8 930.5,340.6 931.9,342.1 933.2,342.5 934.6,342.3 935.9,337.3 937.3,342.4 938.6,338.2 940.0,338.7 941.3,339.5 942.7,341.2 944.0,338.8 945.4,337.3 946.7,339.5 948.1,343.1 949.4,339.3 950.8,337.6 952.1,341.0 953.5,342.1 954.8,338.9 956.2,336.9 957.5,340.3 958.9,340.7 960.2,336.1 961.6,341.3 962.9,338.4 964.3,337.6 965.6,341.2 967.0,340.1 968.3,344.3 969.7,339.9 971.0,346.4 972.4,341.6 973.7,339.5 975.1,340.3 976.4,343.5 977.8,345.6 979.1,343.6 980.5,342.2 981.8,342.8 983.2,346.3 984.5,345.7 985.9,343.7 987.2,345.0 988.6,343.3 989.9,341.3 991.3,342.3 992.6,339.7 994.0,340.3 995.3,343.5 996.7,338.3 998.0,345.2 999.4,343.6 1000.7,343.4 1002.1,343.4 1003.4,341.0 1004.8,340.5 1006.1,340.0 1007.5,343.1 1008.8,342.2 1010.2,339.3 1011.5,338.1 1012.9,343.1 1014.2,340.6 1015.6,341.0 1016.9,341.1 1018.3,342.0 1019.6,341.9 1021.0,340.2 1022.3,337.8 1023.7,337.1 1025.0,340.4 1026.4,337.9 1027.7,336.6 1029.1,340.1 1030.4,339.6 1031.8,339.1 1033.1,340.3 1034.5,335.4 1035.8,339.4 1037.2,334.5 1038.5,338.8 1039.9,335.1 1041.2,338.2 1042.6,339.5 1043.9,338.3 1045.3,341.5 1046.6,341.8 1048.0,341.3 1049.3,342.7 1050.7,341.7 1052.0,339.9 1053.4,337.7 1054.7,340.7 1056.1,338.2 1057.4,342.1 1058.8,340.1 1060.1,340.8 1061.5,344.5 1062.8,342.8 1064.2,342.7 1065.5,339.1 1066.9,342.6 1068.2,339.9 1069.6,338.6 1070.9,340.0 1072.3,342.3 1073.6,342.3 1075.0,340.7 1076.3,340.5 1077.7,340.3 1079.0,343.6 1080.4,339.3 1081.7,339.1 1083.1,340.2 1084.4,339.1 1085.8,342.2 1087.1,341.8 1088.5,337.3 1089.8,339.3 1091.2,336.0 1092.5,336.4 1093.9,340.8 1095.2,338.8 1096.6,336.2 1097.9,338.8 1099.3,343.1 1100.6,342.4 1102.0,338.8 1103.3,340.2 1104.7,343.5 1106.0,346.5 1107.4,344.4 1108.7,343.9 1110.1,344.0 1111.4,343.3 1112.8,341.8 1114.1,343.1 1115.5,342.5 1116.8,342.0 1118.2,345.7 1119.5,341.9 1120.9,338.8 1122.2,348.1 1123.6,349.0 1124.9,346.9 1126.3,353.2 1127.6,351.4 1129.0,356.4 1130.3,354.0 1131.7,350.8 1133.0,358.6 1134.4,356.3 1135.7,364.4 1137.1,359.4 1138.4,367.4 1139.8,371.7 1141.1,367.4 1142.5,368.7 1143.8,366.1 1145.2,372.8 1146.5,363.5 1147.9,360.0 1149.2,364.6 1150.6,362.6 1151.9,359.8 1153.3,363.2 1154.6,363.6 1156.0,360.0 1157.3,363.2 1158.7,363.7 1160.0,366.8 1161.4,377.8 1162.7,371.2 1164.1,376.7 1165.4,369.0 1166.8,370.7 1168.1,366.6 1169.5,370.3 1170.8,371.9 1172.2,366.3 1173.5,365.9 1174.9,363.5 1176.2,362.0 1177.6,362.8 1178.9,364.7 1180.3,368.6 1181.6,367.6 1183.0,366.9 1184.3,360.9 1185.7,367.9 1187.0,363.5 1188.4,361.8 1189.7,356.8 1191.1,361.0 1192.4,354.0 1193.8,347.0 1195.1,351.7 1196.5,345.5 1197.8,350.0 1199.2,341.0 1200.5,339.7 1201.9,336.5 1203.2,333.9 1204.6,330.2 1205.9,336.0 1207.2,329.9 1208.6,335.4 1209.9,331.6 1211.3,330.2 1212.6,324.1 1214.0,322.9 1215.3,325.2 1216.7,320.9 1218.0,319.8 1219.4,331.5 1220.7,323.9 1222.1,333.2 1223.4,332.3 1224.8,338.1 1226.1,332.8 1227.5,337.4 1228.8,339.3 1230.2,343.4 1231.5,334.3 1232.9,333.7 1234.2,335.1 1235.6,340.4 1236.9,337.4 1238.3,335.4 1239.6,331.2 1241.0,331.7 1242.3,334.8 1243.7,330.5 1245.0,337.5 1246.4,330.5 1247.7,335.4 1249.1,327.5 1250.4,329.7 1251.8,337.5 1253.1,339.3 1254.5,346.9 1255.8,343.9 1257.2,345.4 1258.5,344.1 1259.9,342.1 1261.2,342.0 1262.6,341.8 1263.9,339.2 1265.3,334.7 1266.6,337.8 1268.0,336.2 1269.3,335.1 1270.7,338.3 1272.0,337.5 1273.4,338.3 1274.7,338.4 1276.1,340.2 1277.4,339.5 1278.8,339.6 1280.1,343.3 1281.5,343.2 1282.8,343.1 1284.2,340.8 1285.5,346.0 1286.9,344.6 1288.2,342.6 1289.6,342.4 1290.9,342.2 1292.3,340.6 1293.6,345.5 1295.0,340.7 1296.3,345.0 1297.7,341.0 1299.0,341.8 1300.4,344.8 1301.7,340.8 1303.1,343.6 1304.4,345.3 1305.8,346.1 1307.1,341.3 1308.5,344.1 1309.8,343.9 1311.2,343.8 1312.5,341.8 1313.9,339.8 1315.2,339.2 1316.6,338.5 1317.9,341.0 1319.3,342.6 1320.6,340.2 1322.0,339.9 1323.3,345.1 1324.7,345.9 1326.0,343.7 1327.4,345.1 1328.7,341.3 1330.1,346.2 1331.4,342.1 1332.8,347.0 1334.1,340.1 1335.5,341.5 1336.8,346.1 1338.2,339.5 1339.5,338.2 1340.9,344.1 1342.2,341.7 1343.6,339.9 1344.9,343.2 1346.3,339.9 1347.6,344.8 1349.0,342.7 1350.3,344.6 1351.7,340.1 1353.0,341.1 1354.4,340.8 1355.7,345.4 1357.1,342.6 1358.4,337.4 1359.8,339.3 1361.1,341.2 1362.5,337.2 1363.8,335.3 1365.2,339.9 1366.5,339.7 1367.9,338.6 1369.2,341.0 1370.6,339.3 1371.9,337.2 1373.3,337.7 1374.6,338.2 1376.0,341.4 1377.3,338.9 1378.7,339.9 1380.0,341.7 1381.4,338.1 1382.7,337.6 1384.1,340.9 1385.4,343.4 1386.8,338.8 1388.1,343.8 1389.5,342.9 1390.8,339.7 1392.2,342.2 1393.5,345.5 1394.9,343.4 1396.2,345.4 1397.6,344.9 1398.9,341.5 1400.3,344.3 1401.6,346.1 1403.0,345.1 1404.3,345.5 1405.7,344.7 1407.0,342.3 1408.4,340.7 1409.7,342.4 1411.1,340.0 1412.4,341.0 1413.8,344.3 1415.1,344.3 1416.5,344.5 1417.8,339.4 1419.2,340.8 1420.5,338.0 1421.9,346.2 1423.2,339.9 1424.6,339.0 1425.9,340.4" stroke="#dc0028"/>
<polyline points="96.2,310.1 97.5,310.1 98.8,310.1 100.1,310.1 101.4,310.1 101.4,316.3 102.7,316.3 104.0,316.3 105.3,316.3 106.6,316.3 107.9,316.3 109.2,316.3 110.5,316.3 111.8,316.3 111.8,310.1 113.1,310.1 114.4,310.1 115.7,310.1 117.0,310.1 117.0,303.9 118.3,303.9 119.6,303.9 120.9,303.9 122.2,303.9 123.5,303.9 124.8,303.9 124.8,310.1 126.1,310.1 127.4,310.1 128.7,310.1 130.0,310.1 131.3,310.1 131.3,322.4 132.6,322.4 133.9,322.4 135.2,322.4 136.5,322.4 137.8,322.4 137.8,328.6 139.1,328.6 140.4,328.6 141.7,328.6 143.0,328.6 144.3,328.6 145.6,328.6 146.9,328.6 146.9,334.7 148.2,334.7 149.5,334.7 150.8,334.7 150.8,328.6 152.1,328.6 153.4,328.6 153.4,334.7 154.7,334.7 154.7,322.4 156.0,322.4 157.3,322.4 158.6,322.4 159.9,322.4 161.2,322.4 162.5,322.4 162.5,316.3 163.8,316.3 165.1,316.3 166.4,316.3 167.7,316.3 167.7,310.1 169.0,310.1 170.3,310.1 171.6,310.1 172.9,310.1 172.9,303.9 174.2,303.9 175.5,303.9 176.8,303.9 178.1,303.9 179.4,303.9 180.7,303.9 182.0,303.9 183.3,303.9 184.6,303.9 185.9,303.9 187.2,303.9 188.5,303.9 189.8,303.9 191.1,303.9 192.4,303.9 193.7,303.9 195.0,303.9 196.3,303.9 196.3,310.1 197.6,310.1 198.9,310.1 200.2,310.1 200.2,316.3 201.5,316.3 202.8,316.3 204.1,316.3 205.4,316.3 205.4,322.4 206.7,322.4 208.0,322.4 209.3,322.4 210.6,322.4 211.9,322.4 213.2,322.4 214.5,322.4 215.8,322.4 217.1,322.4 218.4,322.4 218.4,328.6 219.7,328.6 221.0,328.6 221.0,322.4 222.3,322.4 222.3,328.6 223.6,328.6 224.9,328.6 226.2,328.6 227.5,328.6 227.5,322.4 228.8,322.4 230.1,322.4 231.4,322.4 232.7,322.4 234.0,322.4 235.3,322.4 236.6,322.4 237.9,322.4 239.2,322.4 240.5,322.4 240.5,316.3 241.8,316.3 243.1,316.3 244.4,316.3 245.7,316.3 247.0,316.3 248.3,316.3 248.3,322.4 249.6,322.4 250.9,322.4 252.2,322.4 253.5,322.4 254.8,322.4 256.1,322.4 257.4,322.4 258.7,322.4 260.0,322.4 261.3,322.4 262.6,322.4 263.9,322.4 265.2,322.4 266.5,322.4 267.8,322.4 267.8,316.3 269.1,316.3 270.4,316.3 271.7,316.3 273.0,316.3 274.3,316.3 275.6,316.3 276.9,316.3 278.2,316.3 279.5,316.3 280.8,316.3 280.8,310.1 282.1,310.1 283.4,310.1 284.7,310.1 286.0,310.1 287.3,310.1 288.6,310.1 288.6,303.9 289.9,303.9 291.2,303.9 292.5,303.9 293.8,303.9 295.1,303.9 296.4,303.9 297.7,303.9 299.0,303.9 300.3,303.9 301.6,303.9 302.9,303.9 304.2,303.9 305.5,303.9 306.8,303.9 308.1,303.9 308.1,316.3 309.4,316.3 309.4,322.4 310.7,322.4 310.7,316.3 312.0,316.3 313.3,316.3 314.6,316.3 315.9,316.3 317.2,316.3 318.5,316.3 319.8,316.3 321.1,316.3 322.4,316.3 323.7,316.3 325.0,316.3 326.3,316.3 327.6,316.3 328.9,316.3 330.2,316.3 331.5,316.3 331.5,322.4 332.8,322.4 334.1,322.4 334.1,316.3 335.4,316.3 336.7,316.3 338.0,316.3 338.0,310.1 339.3,310.1 339.3,316.3 340.6,316.3 340.6,310.1 341.9,310.1 343.2,310.1 344.5,310.1 345.8,310.1 345.8,316.3 347.1,316.3 348.4,316.3 348.4,310.1 349.7,310.1 351.0,310.1 351.0,303.9 352.3,303.9 353.6,303.9 354.9,303.9 356.2,303.9 357.5,303.9 358.8,303.9 358.8,310.1 360.1,310.1 360.1,297.8 361.4,297.8 362.7,297.8 364.0,297.8 365.3,297.8 366.6,297.8 367.9,297.8 369.2,297.8 370.5,297.8 371.8,297.8 373.1,297.8 374.4,297.8 375.7,297.8 377.0,297.8 378.3,297.8 379.6,297.8 380.9,297.8 382.2,297.8 382.2,303.9 383.5,303.9 384.8,303.9 386.1,303.9 386.1,310.1 387.4,310.1 388.7,310.1 390.0,310.1 390.0,322.4 391.3,322.4 391.3,316.3 392.6,316.3 393.9,316.3 393.9,310.1 395.2,310.1 395.2,316.3 396.5,316.3 397.8,316.3 397.8,310.1 399.1,310.1 400.4,310.1 401.7,310.1 403.0,310.1 404.3,310.1 404.3,303.9 405.6,303.9 406.9,303.9 408.2,303.9 409.5,303.9 410.8,303.9 412.1,303.9 413.4,303.9 414.7,303.9 414.7,297.8 416.0,297.8 417.3,297.8 418.6,297.8 419.9,297.8 421.2,297.8 422.5,297.8 423.8,297.8 425.1,297.8 425.1,291.6 426.4,291.6 427.7,291.6 429.0,291.6 430.3,291.6 431.6,291.6 432.9,291.6 434.2,291.6 435.5,291.6 436.8,291.6 438.1,291.6 439.4,291.6 440.7,291.6 440.7,297.8 442.0,297.8 443.3,297.8 443.3,303.9 444.6,303.9 445.9,303.9 447.2,303.9 448.5,303.9 449.8,303.9 451.1,303.9 452.4,303.9 453.7,303.9 455.0,303.9 456.3,303.9 457.6,303.9 458.9,303.9 458.9,297.8 460.2,297.8 461.5,297.8 462.8,297.8 464.1,297.8 465.4,297.8 465.4,291.6 466.7,291.6 468.0,291.6 469.3,291.6 470.6,291.6 471.9,291.6 473.2,291.6 474.5,291.6 475.8,291.6 477.1,291.6 478.4,291.6 478.4,285.5 479.7,285.5 481.0,285.5 482.3,285.5 483.6,285.5 484.9,285.5 486.2,285.5 487.5,285.5 488.8,285.5 490.1,285.5 491.4,285.5 492.7,285.5 494.0,285.5 495.3,285.5 496.6,285.5 497.9,285.5 499.2,285.5 500.5,285.5 501.8,285.5 501.8,291.6 503.1,291.6 504.4,291.6 505.7,291.6 507.0,291.6 508.3,291.6 509.6,291.6 510.9,291.6 512.2,291.6 513.5,291.6 513.5,297.8 514.8,297.8 516.1,297.8 517.4,297.8 518.7,297.8 520.0,297.8 521.3,297.8 522.6,297.8 523.9,297.8 525.2,297.8 525.2,303.9 526.5,303.9 527.8,303.9 529.1,303.9 530.4,303.9 531.7,303.9 533.0,303.9 533.0,310.1 534.3,310.1 535.6,310.1 536.9,310.1 538.2,310.1 539.5,310.1 539.5,316.3 540.8,316.3 542.1,316.3 543.4,316.3 543.4,310.1 544.7,310.1 546.0,310.1 546.0,316.3 547.3,316.3 548.6,316.3 549.9,316.3 551.2,316.3 551.2,310.1 552.5,310.1 552.5,316.3 553.8,316.3 553.8,310.1 555.1,310.1 556.4,310.1 556.4,303.9 557.7,303.9 559.0,303.9 560.3,303.9 561.6,303.9 562.9,303.9 564.2,303.9 565.5,303.9 566.8,303.9 568.1,303.9 569.4,303.9 570.7,303.9 572.0,303.9 572.0,297.8 573.3,297.8 574.6,297.8 575.9,297.8 575.9,303.9 577.2,303.9 577.2,297.8 578.5,297.8 578.5,303.9 579.8,303.9 579.8,297.8 581.1,297.8 582.4,297.8 582.4,291.6 583.7,291.6 583.7,297.8 585.0,297.8 585.0,291.6 586.3,291.6 587.6,291.6 588.9,291.6 590.2,291.6 591.5,291.6 591.5,285.5 592.8,285.5 594.1,285.5 595.4,285.5 596.7,285.5 598.0,285.5 599.3,285.5 600.6,285.5 601.9,285.5 603.2,285.5 604.5,285.5 605.8,285.5 607.1,285.5 608.4,285.5 609.7,285.5 611.0,285.5 612.3,285.5 613.6,285.5 613.6,279.3 614.9,279.3 616.2,279.3 617.5,279.3 618.8,279.3 620.1,279.3 620.1,273.1 621.4,273.1 621.4,279.3 622.7,279.3 624.0,279.3 625.3,279.3 626.6,279.3 627.9,279.3 629.2,279.3 630.5,279.3 630.5,273.1 631.8,273.1 633.1,273.1 634.4,273.1 635.7,273.1 637.0,273.1 638.3,273.1 639.6,273.1 640.9,273.1 642.2,273.1 643.5,273.1 644.8,273.1 644.8,267.0 646.1,267.0 647.4,267.0 648.7,267.0 650.0,267.0 651.3,267.0 652.6,267.0 653.9,267.0 655.2,267.0 656.5,267.0 657.8,267.0 659.1,267.0 660.4,267.0 660.4,260.8 661.7,260.8 663.0,260.8 664.3,260.8 665.6,260.8 666.9,260.8 668.2,260.8 669.5,260.8 670.8,260.8 672.1,260.8 672.1,254.7 673.4,254.7 674.7,254.7 676.0,254.7 677.3,254.7 678.6,254.7 679.9,254.7 681.2,254.7 682.5,254.7 683.8,254.7 685.1,254.7 686.4,254.7 687.7,254.7 689.0,254.7 690.3,254.7 691.6,254.7 692.9,254.7 692.9,248.5 694.2,248.5 695.5,248.5 696.8,248.5 698.1,248.5 699.4,248.5 700.7,248.5 702.0,248.5 703.3,248.5 704.6,248.5 705.9,248.5 707.2,248.5 708.5,248.5 709.8,248.5 711.1,248.5 712.4,248.5 713.7,248.5 715.0,248.5 715.0,242.3 716.3,242.3 717.6,242.3 718.9,242.3 720.2,242.3 721.5,242.3 722.8,242.3 724.1,242.3 725.4,242.3 726.7,242.3 728.0,242.3 729.3,242.3 730.6,242.3 731.9,242.3 733.2,242.3 734.5,242.3 735.8,242.3 735.8,236.2 737.1,236.2 738.4,236.2 738.4,242.3 739.7,242.3 741.0,242.3 741.0,236.2 742.3,236.2 743.6,236.2 744.9,236.2 746.2,236.2 747.5,236.2 748.8,236.2 750.1,236.2 751.4,236.2 751.4,230.0 752.7,230.0 754.0,230.0 755.3,230.0 756.6,230.0 757.9,230.0 759.2,230.0 760.5,230.0 761.8,230.0 763.1,230.0 763.1,236.2 764.4,236.2 765.7,236.2 765.7,230.0 767.0,230.0 768.3,230.0 768.3,236.2 769.6,236.2 770.9,236.2 770.9,223.9 772.2,223.9 773.5,223.9 774.8,223.9 776.1,223.9 777.4,223.9 778.7,223.9 780.0,223.9 781.3,223.9 782.6,223.9 783.9,223.9 785.2,223.9 786.5,223.9 787.8,223.9 789.1,223.9 790.4,223.9 790.4,230.0 791.7,230.0 793.0,230.0 794.3,230.0 795.6,230.0 796.9,230.0 798.2,230.0 799.5,230.0 800.8,230.0 802.1,230.0 803.4,230.0 804.7,230.0 806.0,230.0 806.0,236.2 807.3,236.2 808.6,236.2 808.6,230.0 809.9,230.0 811.2,230.0 812.5,230.0 813.8,230.0 815.1,230.0 816.4,230.0 817.7,230.0 819.0,230.0 820.3,230.0 820.3,236.2 821.6,236.2 821.6,230.0 822.9,230.0 824.2,230.0 825.5,230.0 826.8,230.0 828.1,230.0 829.4,230.0 830.7,230.0 830.7,236.2 832.0,236.2 832.0,230.0 833.3,230.0 834.6,230.0 834.6,236.2 835.9,236.2 835.9,230.0 837.2,230.0 838.5,230.0 839.8,230.0 841.1,230.0 842.4,230.0 843.7,230.0 845.0,230.0 846.3,230.0 847.6,230.0 848.9,230.0 850.2,230.0 851.5,230.0 852.8,230.0 852.8,223.9 854.1,223.9 855.4,223.9 855.4,230.0 856.7,230.0 858.0,230.0 859.3,230.0 860.6,230.0 861.9,230.0 863.2,230.0 864.5,230.0 865.8,230.0 867.1,230.0 868.4,230.0 868.4,236.2 869.7,236.2 871.0,236.2 872.3,236.2 873.6,236.2 873.6,242.3 874.9,242.3 876.2,242.3 877.5,242.3 878.8,242.3 880.1,242.3 881.4,242.3 882.7,242.3 884.0,242.3 885.3,242.3 885.3,236.2 886.6,236.2 886.6,242.3 887.9,242.3 889.2,242.3 890.5,242.3 891.8,242.3 891.8,236.2 893.1,236.2 894.4,236.2 894.4,242.3 895.7,242.3 897.0,242.3 898.3,242.3 898.3,236.2 899.6,236.2 900.9,236.2 902.2,236.2 903.5,236.2 904.8,236.2 906.1,236.2 906.1,230.0 907.4,230.0 908.7,230.0 910.0,230.0 911.3,230.0 911.3,223.9 912.6,223.9 913.9,223.9 915.2,223.9 916.5,223.9 916.5,217.7 917.8,217.7 919.1,217.7 920.4,217.7 921.7,217.7 923.0,217.7 924.3,217.7 925.6,217.7 925.6,211.5 926.9,211.5 928.2,211.5 929.5,211.5 930.8,211.5 932.1,211.5 932.1,217.7 933.4,217.7 934.7,217.7 936.0,217.7 937.3,217.7 938.6,217.7 939.9,217.7 941.2,217.7 942.5,217.7 943.8,217.7 945.1,217.7 946.4,217.7 947.7,217.7 949.0,217.7 950.3,217.7 950.3,211.5 951.6,211.5 952.9,211.5 954.2,211.5 955.5,211.5 956.8,211.5 956.8,205.4 958.1,205.4 958.1,211.5 959.4,211.5 960.7,211.5 962.0,211.5 963.3,211.5 963.3,205.4 964.6,205.4 965.9,205.4 965.9,217.7 967.2,217.7 968.5,217.7 969.8,217.7 971.1,217.7 972.4,217.7 973.7,217.7 973.7,205.4 975.0,205.4 975.0,211.5 976.3,211.5 976.3,205.4 977.6,205.4 977.6,211.5 978.9,211.5 980.2,211.5 981.5,211.5 981.5,205.4 982.8,205.4 982.8,211.5 984.1,211.5 985.4,211.5 986.7,211.5 986.7,205.4 988.0,205.4 988.0,211.5 989.3,211.5 990.6,211.5 990.6,205.4 991.9,205.4 991.9,211.5 993.2,211.5 993.2,217.7 994.5,217.7 995.8,217.7 997.1,217.7 998.4,217.7 999.7,217.7 1001.0,217.7 1002.3,217.7 1003.6,217.7 1004.9,217.7 1006.2,217.7 1007.5,217.7 1007.5,211.5 1008.8,211.5 1010.1,211.5 1011.4,211.5 1012.7,211.5 1012.7,217.7 1014.0,217.7 1015.3,217.7 1015.3,211.5 1016.6,211.5 1017.9,211.5 1019.2,211.5 1020.5,211.5 1021.8,211.5 1023.1,211.5 1024.4,211.5 1024.4,205.4 1025.7,205.4 1027.0,205.4 1028.3,205.4 1029.6,205.4 1030.9,205.4 1032.2,205.4 1033.5,205.4 1034.8,205.4 1036.1,205.4 1037.4,205.4 1038.7,205.4 1040.0,205.4 1041.3,205.4 1042.6,205.4 1043.9,205.4 1045.2,205.4 1046.5,205.4 1047.8,205.4 1049.1,205.4 1050.4,205.4 1051.7,205.4 1053.0,205.4 1054.3,205.4 1055.6,205.4 1056.9,205.4 1058.2,205.4 1059.5,205.4 1060.8,205.4 1062.1,205.4 1063.4,205.4 1064.7,205.4 1066.0,205.4 1067.3,205.4 1068.6,205.4 1068.6,199.2 1069.9,199.2 1071.2,199.2 1072.5,199.2 1073.8,199.2 1075.1,199.2 1076.4,199.2 1077.7,199.2 1079.0,199.2 1079.0,193.1 1080.3,193.1 1080.3,199.2 1081.6,199.2 1082.9,199.2 1084.2,199.2 1085.5,199.2 1086.8,199.2 1088.1,199.2 1088.1,193.1 1089.4,193.1 1090.7,193.1 1092.0,193.1 1092.0,199.2 1093.3,199.2 1094.6,199.2 1095.9,199.2 1095.9,193.1 1097.2,193.1 1098.5,193.1 1098.5,205.4 1099.8,205.4 1101.1,205.4 1102.4,205.4 1103.7,205.4 1105.0,205.4 1106.3,205.4 1107.6,205.4 1108.9,205.4 1110.2,205.4 1110.2,211.5 1111.5,211.5 1111.5,199.2 1112.8,199.2 1114.1,199.2 1114.1,193.1 1115.4,193.1 1116.7,193.1 1118.0,193.1 1119.3,193.1 1120.6,193.1 1121.9,193.1 1123.2,193.1 1123.2,199.2 1124.5,199.2 1124.5,193.1 1125.8,193.1 1127.1,193.1 1127.1,199.2 1128.4,199.2 1128.4,193.1 1129.7,193.1 1131.0,193.1 1132.3,193.1 1133.6,193.1 1134.9,193.1 1134.9,199.2 1136.2,199.2 1137.5,199.2 1138.8,199.2 1140.1,199.2 1141.4,199.2 1142.7,199.2 1144.0,199.2 1145.3,199.2 1146.6,199.2 1146.6,205.4 1147.9,205.4 1149.2,205.4 1150.5,205.4 1150.5,199.2 1151.8,199.2 1153.1,199.2 1153.1,193.1 1154.4,193.1 1155.7,193.1 1157.0,193.1 1158.3,193.1 1159.6,193.1 1160.9,193.1 1162.2,193.1 1163.5,193.1 1164.8,193.1 1166.1,193.1 1166.1,186.9 1167.4,186.9 1168.7,186.9 1170.0,186.9 1171.3,186.9 1172.6,186.9 1172.6,193.1 1173.9,193.1 1173.9,186.9 1175.2,186.9 1175.2,180.7 1176.5,180.7 1177.8,180.7 1179.1,180.7 1180.4,180.7 1181.7,180.7 1183.0,180.7 1184.3,180.7 1185.6,180.7 1186.9,180.7 1188.2,180.7 1189.5,180.7 1189.5,174.6 1190.8,174.6 1192.1,174.6 1193.4,174.6 1194.7,174.6 1196.0,174.6 1197.3,174.6 1198.6,174.6 1199.9,174.6 1201.2,174.6 1201.2,180.7 1202.5,180.7 1203.8,180.7 1205.1,180.7 1206.4,180.7 1207.7,180.7 1207.7,193.1 1209.0,193.1 1210.3,193.1 1210.3,199.2 1211.6,199.2 1211.6,193.1 1212.9,193.1 1214.2,193.1 1215.5,193.1 1215.5,199.2 1216.8,199.2 1218.1,199.2 1219.4,199.2 1220.7,199.2 1220.7,205.4 1222.0,205.4 1223.3,205.4 1224.6,205.4 1225.9,205.4 1227.2,205.4 1228.5,205.4 1229.8,205.4 1231.1,205.4 1232.4,205.4 1233.7,205.4 1235.0,205.4 1236.3,205.4 1236.3,193.1 1237.6,193.1 1238.9,193.1 1240.2,193.1 1241.5,193.1 1242.8,193.1 1244.1,193.1 1244.1,186.9 1245.4,186.9 1246.7,186.9 1246.7,193.1 1248.0,193.1 1248.0,186.9 1249.3,186.9 1249.3,180.7 1250.6,180.7 1250.6,186.9 1251.9,186.9 1253.2,186.9 1253.2,174.6 1254.5,174.6 1255.8,174.6 1257.1,174.6 1257.1,168.4 1258.4,168.4 1259.7,168.4 1261.0,168.4 1262.3,168.4 1263.6,168.4 1263.6,162.3 1264.9,162.3 1266.2,162.3 1267.5,162.3 1268.8,162.3 1270.1,162.3 1271.4,162.3 1272.7,162.3 1274.0,162.3 1275.3,162.3 1276.6,162.3 1276.6,168.4 1277.9,168.4 1279.2,168.4 1280.5,168.4 1281.8,168.4 1283.1,168.4 1283.1,174.6 1284.4,174.6 1284.4,168.4 1285.7,168.4 1285.7,174.6 1287.0,174.6 1288.3,174.6 1288.3,168.4 1289.6,168.4 1290.9,168.4 1292.2,168.4 1293.5,168.4 1294.8,168.4 1296.1,168.4 1297.4,168.4 1297.4,174.6 1298.7,174.6 1300.0,174.6 1300.0,168.4 1301.3,168.4 1301.3,174.6 1302.6,174.6 1302.6,168.4 1303.9,168.4 1303.9,174.6 1305.2,174.6 1306.5,174.6 1307.8,174.6 1309.1,174.6 1310.4,174.6 1311.7,174.6 1313.0,174.6 1314.3,174.6 1315.6,174.6 1316.9,174.6 1318.2,174.6 1319.5,174.6 1320.8,174.6 1322.1,174.6 1323.4,174.6 1324.7,174.6 1326.0,174.6 1327.3,174.6 1328.6,174.6 1328.6,168.4 1329.9,168.4 1331.2,168.4 1332.5,168.4 1333.8,168.4 1335.1,168.4 1335.1,162.3 1336.4,162.3 1337.7,162.3 1339.0,162.3 1340.3,162.3 1341.6,162.3 1342.9,162.3 1344.2,162.3 1345.5,162.3 1346.8,162.3 1348.1,162.3 1349.4,162.3 1350.7,162.3 1352.0,162.3 1353.3,162.3 1354.6,162.3 1355.9,162.3 1357.2,162.3 1358.5,162.3 1359.8,162.3 1359.8,168.4 1361.1,168.4 1362.4,168.4 1363.7,168.4 1365.0,168.4 1365.0,174.6 1366.3,174.6 1367.6,174.6 1368.9,174.6 1370.2,174.6 1371.5,174.6 1371.5,180.7 1372.8,180.7 1374.1,180.7 1375.4,180.7 1376.7,180.7 1376.7,186.9 1378.0,186.9 1379.3,186.9 1380.6,186.9 1381.9,186.9 1381.9,193.1 1383.2,193.1 1384.5,193.1 1385.8,193.1 1387.1,193.1 1388.4,193.1 1389.7,193.1 1391.0,193.1 1392.3,193.1 1393.6,193.1 1394.9,193.1 1396.2,193.1 1397.5,193.1 1398.8,193.1 1400.1,193.1 1401.4,193.1 1401.4,199.2 1402.7,199.2 1404.0,199.2 1404.0,193.1 1405.3,193.1 1406.6,193.1 1406.6,205.4 1407.9,205.4 1409.2,205.4 1410.5,205.4 1411.8,205.4 1413.1,205.4 1413.1,211.5 1414.4,211.5 1415.7,211.5 1415.7,217.7 1417.0,217.7 1417.0,211.5 1418.3,211.5 1419.6,211.5 1420.9,211.5 1422.2,211.5 1422.2,217.7 1423.5,217.7 1423.5,211.5 1424.8,211.5 1426.1,211.5" stroke="#ff6428"/>
<path d="M105.5 316.3V334.6M125.5 303.9V340.4M197.5 310.1V344.7M204.5 322.4V339.7M225.5 322.4V354.0M244.5 316.3V346.0M267.5 322.4V334.6M289.5 303.9V335.0M291.5 303.9V330.0M293.5 303.9V348.0M295.5 303.9V332.0M297.5 303.9V340.0M299.5 303.9V328.0M304.5 303.9V328.0M309.5 322.4V334.6M317.5 316.3V340.0M318.5 316.3V357.0M320.5 316.3V345.0M336.5 316.3V334.6M364.5 297.8V322.7M370.5 297.8V317.0M378.5 297.8V316.0M399.5 310.1V322.0M402.5 310.1V334.6M416.5 297.8V310.0M446.5 303.9V323.0M457.5 303.9V322.5M466.5 291.6V316.0M480.5 285.5V322.5M493.5 285.5V323.0M495.5 285.5V318.0M498.5 285.5V316.0M530.5 303.9V316.0M540.5 310.1V322.5M552.5 310.1V323.0M556.5 303.9V322.5M564.5 303.9V334.6M588.5 291.6V340.9M636.5 273.1V291.6M641.5 273.1V286.0M651.5 267.0V310.2M668.5 260.8V273.0M676.5 254.7V328.3M683.5 254.7V291.6M690.5 254.7V274.0M745.5 236.2V286.0M750.5 236.2V334.6M758.5 230.0V273.6M766.5 230.0V240.0M707.5 248.5V260.6M711.5 248.5V267.5M770.5 230.0V273.6M774.5 223.9V254.4M796.5 230.0V273.6M803.5 230.0V258.0M806.5 230.0V250.0M810.5 230.0V267.5M811.5 230.0V273.6M812.5 230.0V262.0M816.5 230.0V256.0M825.5 230.0V384.7M829.5 230.0V255.0M834.5 230.0V316.0M835.5 230.0V300.0M839.5 230.0V258.0M846.5 230.0V291.6M856.5 230.0V353.2M857.5 230.0V353.2M858.5 230.0V334.6M854.5 223.9V290.0M862.5 230.0V256.0M879.5 242.3V262.0M882.5 242.3V316.0M889.5 242.3V262.0M914.5 223.9V268.7M915.5 223.9V316.0M925.5 211.5V328.3M924.5 217.7V290.0M952.5 211.5V242.5M968.5 217.7V260.0M980.5 211.5V370.4M982.5 211.5V290.0M983.5 211.5V290.0M984.5 211.5V365.0M985.5 211.5V222.0M995.5 217.7V223.5M1013.5 217.7V278.7M1027.5 205.4V242.5M1029.5 205.4V236.0M1034.5 205.4V223.0M1048.5 205.4V359.0M1051.5 205.4V303.0M1053.5 205.4V303.0M1052.5 205.4V403.0M1137.5 199.2V260.0M1137.5 199.2V250.0M1139.5 199.2V255.0M1141.5 199.2V301.7M1143.5 199.2V301.7M1142.5 199.2V403.0M1162.5 193.1V268.0M1163.5 193.1V340.4M1166.5 186.9V297.4M1168.5 186.9V250.0M1171.5 186.9V255.0M1174.5 180.7V252.0M1178.5 180.7V230.0M1180.5 180.7V278.7M1182.5 180.7V215.0M1189.5 180.7V285.3M1203.5 180.7V211.0M1206.5 180.7V293.0M1208.5 193.1V293.0M1207.5 193.1V403.0M1226.5 205.4V353.3M1228.5 205.4V270.0M1229.5 205.4V351.8M1230.5 205.4V262.0M1231.5 205.4V273.0M1233.5 205.4V268.0M1234.5 205.4V255.0M1240.5 193.1V353.3M1240.5 193.1V266.0M1242.5 193.1V256.0M1246.5 186.9V200.0M1249.5 180.7V195.0M1291.5 168.4V254.0M1290.5 168.4V208.0M1292.5 168.4V208.0M1314.5 174.6V206.0M1312.5 174.6V182.0M1344.5 162.3V237.0M1345.5 162.3V200.0M1353.5 162.3V248.0M1354.5 162.3V255.0M1356.5 162.3V205.0M1357.5 162.3V200.0M1358.5 162.3V316.9M1359.5 168.4V206.0M1365.5 174.6V182.0M1372.5 180.7V290.0M1374.5 180.7V290.0M1373.5 180.7V403.0M1375.5 180.7V250.0M1394.5 193.1V223.5M1412.5 211.5V250.0M1413.5 211.5V254.0M1414.5 211.5V260.0M1416.5 211.5V232.0M1418.5 211.5V225.0M759.5 230.0V327.8H762.5V230.0M786.5 223.9V315.5H789.5V223.9M822.5 230.0V384.2H825.5V230.0M846.5 230.0V321.2H849.5V230.0M872.5 242.3V347.0H875.5V242.3M890.5 236.2V302.5H893.5V236.2" stroke="#ff6428" stroke-width="1"/>
<path d="M161.0 322.4V403.0M181.0 303.9V403.0M423.0 297.8V377.6M720.0 242.3V316.8M744.0 236.2V250.6M1188.0 180.7V250.0" stroke="#ff6428" stroke-width="2"/>
<path d="M159.5 376.0V383.0" stroke="#000" stroke-width="1"/>
<path d="M179.5 377.0V385.0" stroke="#000" stroke-width="1"/>
<path d="M824.0 345.0V371.0" stroke="#ff6428" stroke-width="2"/>
<path d="M1053.0 338.0V361.0" stroke="#dc0028" stroke-width="2"/>
<path d="M1053.0 361.0V385.0" stroke="#000" stroke-width="2"/>
<path d="M1143.0 362.0V385.0" stroke="#dc0028" stroke-width="2"/>
<path d="M1143.0 384.7V388.0" stroke="#000" stroke-width="2"/>
<path d="M1207.0 333.0V370.0" stroke="#dc0028" stroke-width="2"/>
<path d="M1207.0 385.0V392.0" stroke="#000" stroke-width="2"/>
<path d="M1225.5 331.0V353.3" stroke="#dc0028" stroke-width="1"/>
<path d="M1228.5 338.0V351.8" stroke="#dc0028" stroke-width="1"/>
<path d="M1239.5 334.5V353.3" stroke="#dc0028" stroke-width="1"/>
<path d="M1374.0 337.0V371.4" stroke="#dc0028" stroke-width="2"/>
<path d="M1374.0 371.4V388.6" stroke="#000" stroke-width="2"/>
</g>
</svg>
</body></html>
